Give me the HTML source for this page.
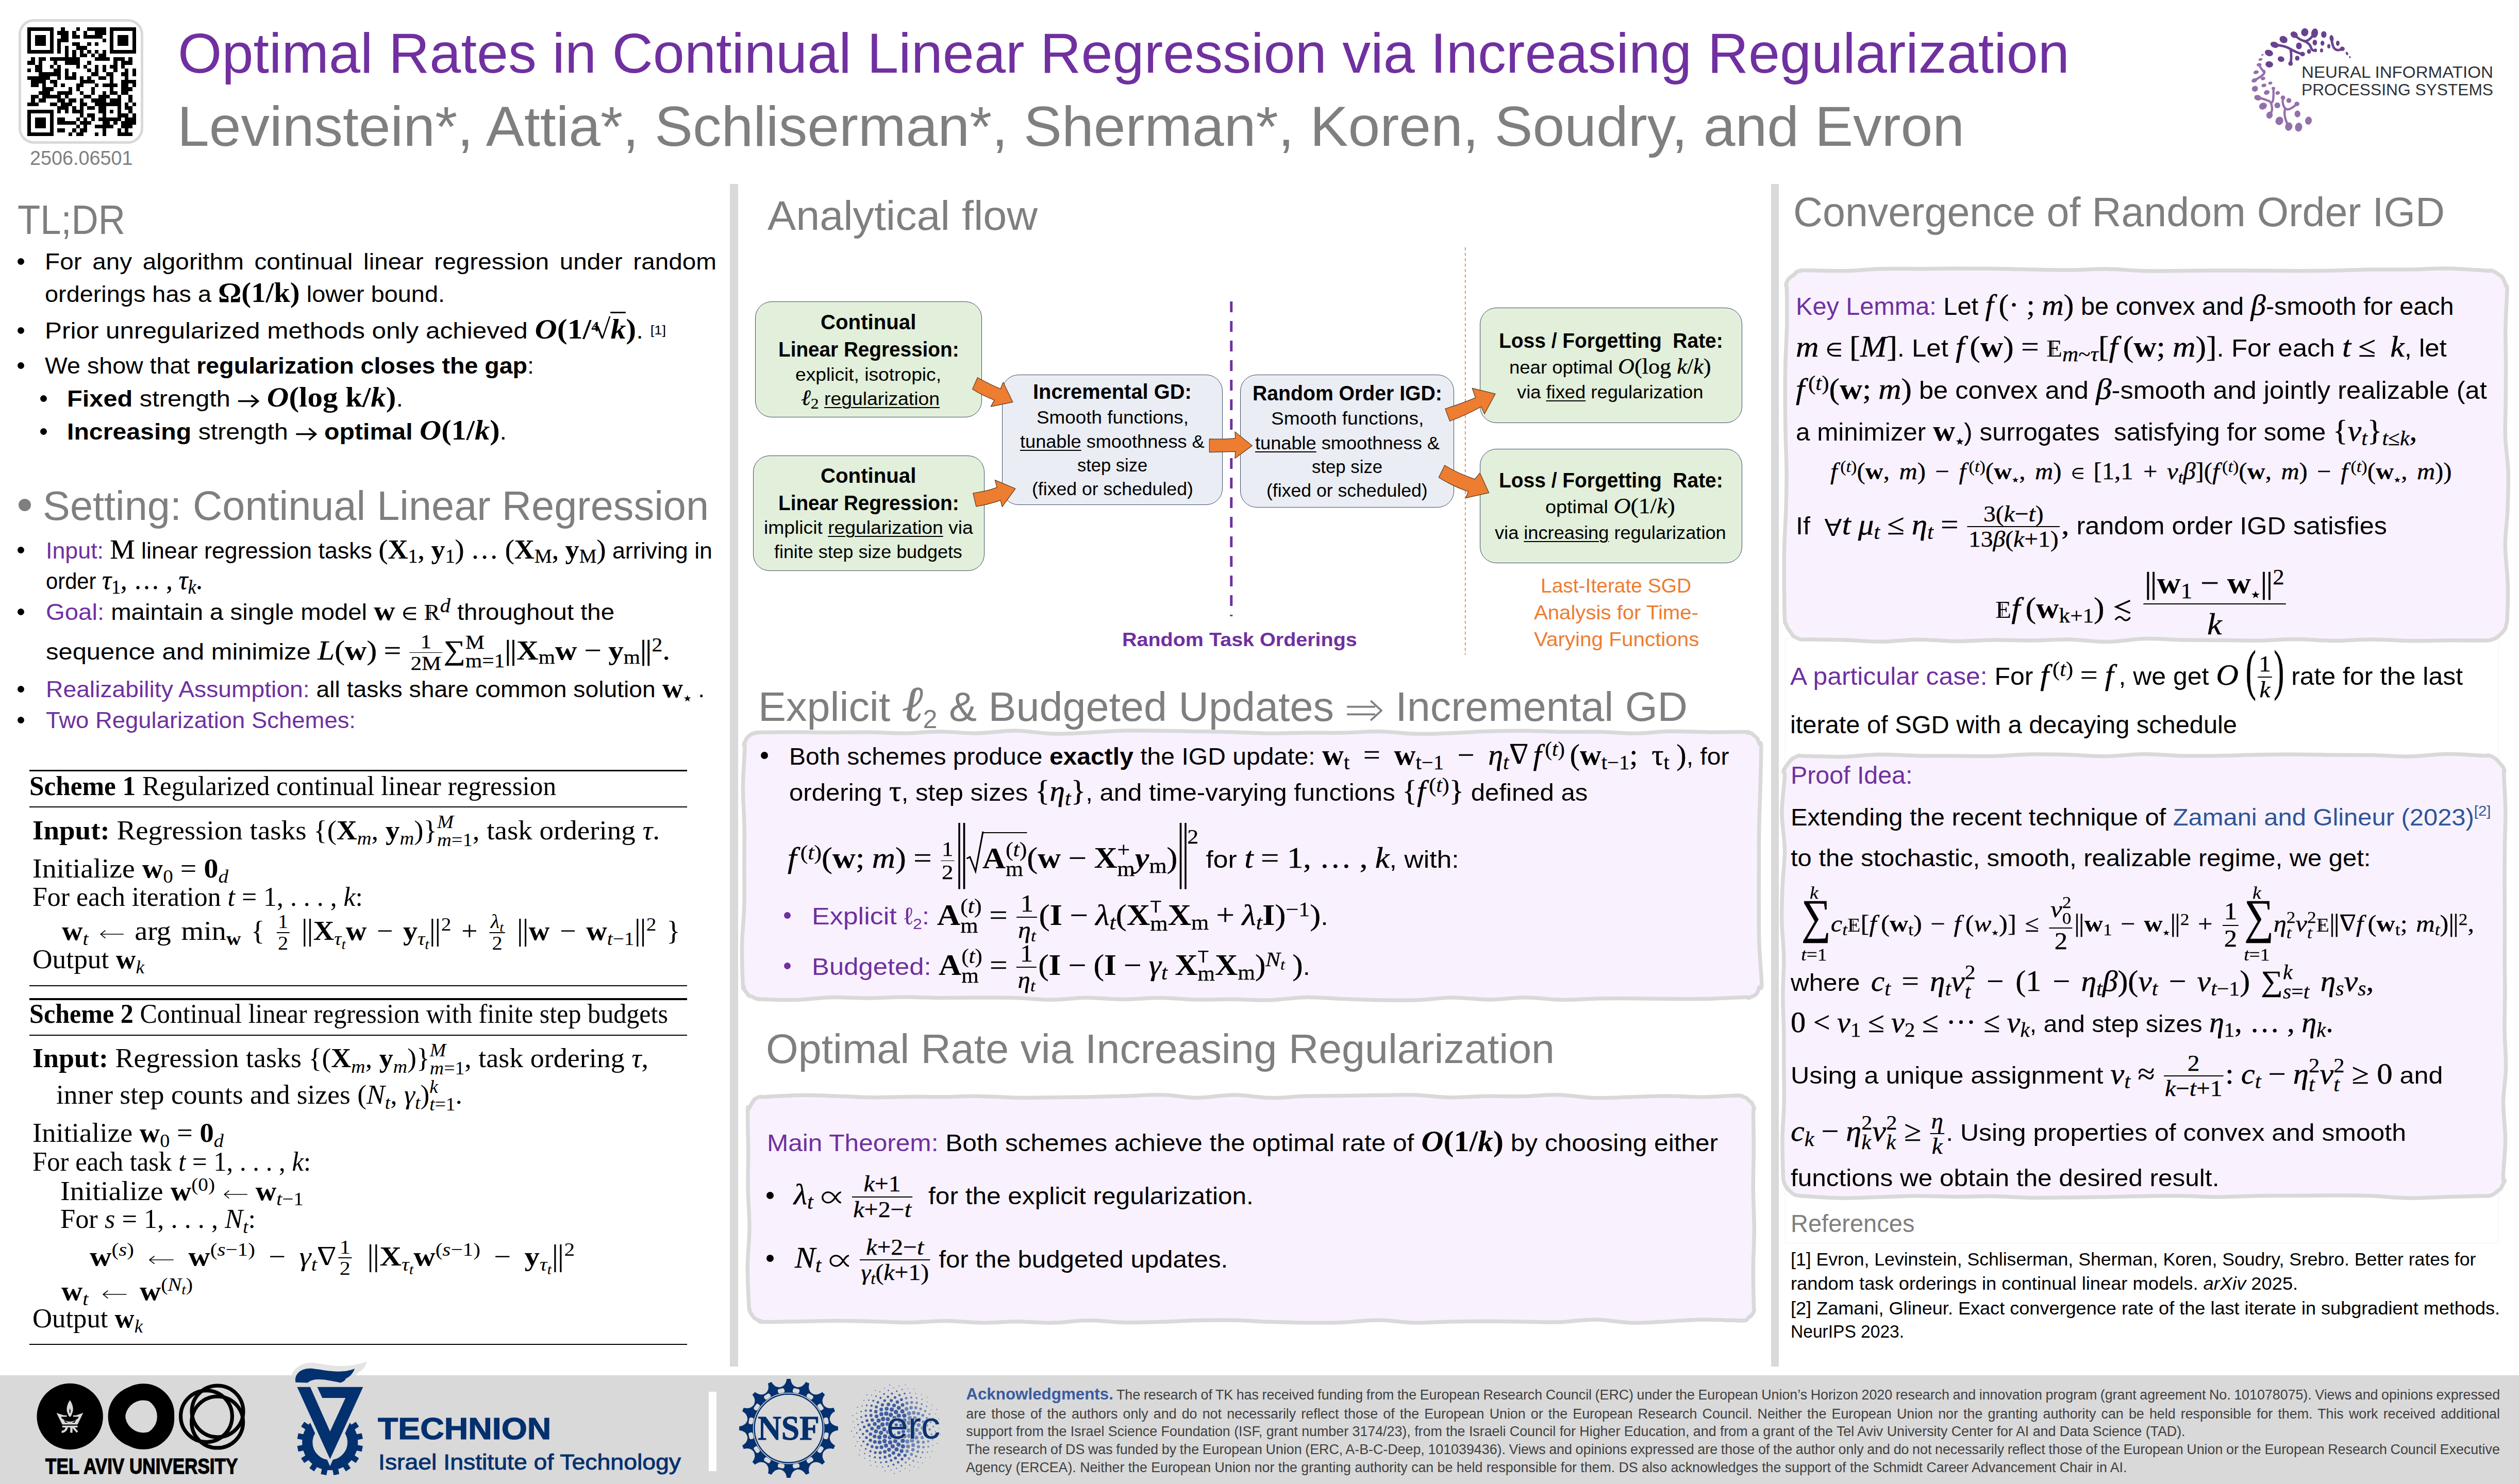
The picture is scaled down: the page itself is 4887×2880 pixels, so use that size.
<!DOCTYPE html>
<html><head><meta charset="utf-8"><title>Poster</title>
<style>
html,body{margin:0;padding:0;background:#fff}
body{width:4887px;height:2880px;position:relative;overflow:hidden;font-family:"Liberation Sans",sans-serif;color:#000}
.t{position:absolute;white-space:nowrap;transform-origin:0 0;line-height:1.2;left:0;top:0}
.r{position:absolute;box-sizing:border-box}
.s{font-family:"Liberation Serif",serif}
.m{font-family:"Liberation Serif",serif;font-style:italic}
.mb{font-family:"Liberation Serif",serif;font-weight:bold}
.mbi{font-family:"Liberation Serif",serif;font-weight:bold;font-style:italic}
.mr{font-family:"Liberation Serif",serif}
.m,.mb,.mbi,.mr{font-size:1.21em}
.m,.mr{-webkit-text-stroke:.008em currentColor}
.s .m,.s .mr{-webkit-text-stroke:0}
.s .m,.s .mb,.s .mbi,.s .mr,.m .m,.mb .mb,.mr .mr,.mr .m,.m .mr,.mb .mr,.mr .mb{font-size:1em}
.nm{font-family:"Liberation Serif",serif;letter-spacing:-.03em;margin-right:.03em;font-size:1.25em;-webkit-text-stroke:.012em currentColor}
.s .nm{font-size:1.12em;-webkit-text-stroke:0}
.fr .nm{font-size:1.2em}
b{font-weight:bold}
sub,sup{font-size:.7em;line-height:0;position:relative;vertical-align:baseline}
sub{top:.28em}
sup{top:-.5em}
.ss{display:inline-flex;flex-direction:column;vertical-align:middle;font-size:.7em;line-height:.95;position:relative;top:-.1em}
.ss>span{display:block}
.fr{display:inline-flex;flex-direction:column;vertical-align:middle;text-align:center;font-size:.72em;line-height:1.06;margin:0 .08em;position:relative;top:-.06em}
.fr>span{display:block;padding:0 .06em}
.fr>span:first-child{border-bottom:.055em solid #000}
.u{text-decoration:underline;text-decoration-thickness:.05em;text-underline-offset:.12em}
.pu{color:#7030a0}
.gy{color:#7f7f7f}
.or{color:#ed7d31}
.bl{color:#2f5597}
.fl{display:inline-block}
svg{position:absolute;overflow:visible}

.bb{font-family:"Liberation Serif",serif;position:relative;display:inline-block}
.bb::before{content:"";position:absolute;left:.245em;top:.33em;height:.55em;border-left:.04em solid currentColor}
</style></head>
<body>
<div class="r" style="left:1416px;top:357px;width:16px;height:2295px;background:#d9d9d9"></div>
<div class="r" style="left:3436px;top:357px;width:15px;height:2295px;background:#d9d9d9"></div>
<div class="r" style="left:0px;top:2669px;width:4887px;height:211px;background:#d9d9d9"></div>
<div class="r" style="left:36px;top:968px;width:24px;height:24px;background:#7f7f7f;border-radius:50%"></div>
<div class="r" style="left:36px;top:37px;width:242px;height:242px;border:5px solid #d9d9d9;border-radius:30px;background:#fff"></div>
<svg style="left:52.7px;top:52.7px" width="211" height="211" viewBox="0 0 29 29" shape-rendering="crispEdges"><path d="M0 0h7v1h-7zM9 0h1v1h-1zM13 0h1v1h-1zM16 0h5v1h-5zM22 0h7v1h-7zM0 1h1v1h-1zM6 1h1v1h-1zM8 1h3v1h-3zM12 1h1v1h-1zM15 1h1v1h-1zM18 1h3v1h-3zM22 1h1v1h-1zM28 1h1v1h-1zM0 2h1v1h-1zM2 2h3v1h-3zM6 2h1v1h-1zM9 2h2v1h-2zM12 2h2v1h-2zM15 2h5v1h-5zM22 2h1v1h-1zM24 2h3v1h-3zM28 2h1v1h-1zM0 3h1v1h-1zM2 3h3v1h-3zM6 3h1v1h-1zM8 3h3v1h-3zM20 3h1v1h-1zM22 3h1v1h-1zM24 3h3v1h-3zM28 3h1v1h-1zM0 4h1v1h-1zM2 4h3v1h-3zM6 4h1v1h-1zM8 4h1v1h-1zM12 4h2v1h-2zM16 4h1v1h-1zM18 4h1v1h-1zM22 4h1v1h-1zM24 4h3v1h-3zM28 4h1v1h-1zM0 5h1v1h-1zM6 5h1v1h-1zM8 5h1v1h-1zM10 5h1v1h-1zM13 5h3v1h-3zM22 5h1v1h-1zM28 5h1v1h-1zM0 6h7v1h-7zM8 6h1v1h-1zM10 6h1v1h-1zM12 6h1v1h-1zM14 6h1v1h-1zM16 6h1v1h-1zM18 6h1v1h-1zM20 6h1v1h-1zM22 6h7v1h-7zM10 7h1v1h-1zM12 7h1v1h-1zM14 7h2v1h-2zM17 7h1v1h-1zM19 7h2v1h-2zM1 8h1v1h-1zM3 8h2v1h-2zM6 8h8v1h-8zM18 8h4v1h-4zM23 8h3v1h-3zM27 8h1v1h-1zM0 9h2v1h-2zM3 9h1v1h-1zM7 9h1v1h-1zM10 9h4v1h-4zM16 9h1v1h-1zM23 9h1v1h-1zM25 9h3v1h-3zM2 10h2v1h-2zM6 10h1v1h-1zM8 10h1v1h-1zM13 10h1v1h-1zM15 10h1v1h-1zM18 10h1v1h-1zM20 10h1v1h-1zM22 10h2v1h-2zM25 10h1v1h-1zM0 11h1v1h-1zM2 11h2v1h-2zM7 11h2v1h-2zM10 11h1v1h-1zM16 11h1v1h-1zM18 11h1v1h-1zM20 11h1v1h-1zM23 11h1v1h-1zM26 11h1v1h-1zM28 11h1v1h-1zM3 12h6v1h-6zM10 12h1v1h-1zM12 12h1v1h-1zM17 12h2v1h-2zM21 12h2v1h-2zM25 12h2v1h-2zM28 12h1v1h-1zM0 13h6v1h-6zM8 13h1v1h-1zM10 13h3v1h-3zM14 13h1v1h-1zM16 13h1v1h-1zM19 13h2v1h-2zM22 13h1v1h-1zM26 13h1v1h-1zM1 14h4v1h-4zM6 14h2v1h-2zM14 14h4v1h-4zM22 14h1v1h-1zM25 14h4v1h-4zM1 15h2v1h-2zM4 15h1v1h-1zM7 15h1v1h-1zM9 15h1v1h-1zM13 15h2v1h-2zM18 15h1v1h-1zM20 15h4v1h-4zM25 15h2v1h-2zM28 15h1v1h-1zM4 16h3v1h-3zM11 16h1v1h-1zM13 16h1v1h-1zM17 16h1v1h-1zM22 16h1v1h-1zM25 16h3v1h-3zM3 17h3v1h-3zM8 17h4v1h-4zM14 17h1v1h-1zM17 17h1v1h-1zM20 17h1v1h-1zM22 17h2v1h-2zM25 17h2v1h-2zM1 18h2v1h-2zM4 18h5v1h-5zM10 18h1v1h-1zM15 18h2v1h-2zM19 18h3v1h-3zM24 18h1v1h-1zM27 18h1v1h-1zM1 19h1v1h-1zM3 19h2v1h-2zM8 19h2v1h-2zM11 19h2v1h-2zM14 19h1v1h-1zM17 19h4v1h-4zM22 19h3v1h-3zM27 19h1v1h-1zM0 20h3v1h-3zM6 20h2v1h-2zM9 20h3v1h-3zM14 20h2v1h-2zM18 20h7v1h-7zM26 20h1v1h-1zM28 20h1v1h-1zM8 21h3v1h-3zM12 21h1v1h-1zM14 21h1v1h-1zM16 21h2v1h-2zM19 21h2v1h-2zM24 21h1v1h-1zM26 21h2v1h-2zM0 22h7v1h-7zM8 22h1v1h-1zM10 22h1v1h-1zM12 22h3v1h-3zM19 22h2v1h-2zM22 22h1v1h-1zM24 22h1v1h-1zM27 22h1v1h-1zM0 23h1v1h-1zM6 23h1v1h-1zM14 23h1v1h-1zM16 23h2v1h-2zM20 23h1v1h-1zM24 23h3v1h-3zM28 23h1v1h-1zM0 24h1v1h-1zM2 24h3v1h-3zM6 24h1v1h-1zM8 24h2v1h-2zM13 24h1v1h-1zM15 24h1v1h-1zM17 24h1v1h-1zM19 24h6v1h-6zM26 24h3v1h-3zM0 25h1v1h-1zM2 25h3v1h-3zM6 25h1v1h-1zM8 25h5v1h-5zM14 25h3v1h-3zM20 25h2v1h-2zM23 25h1v1h-1zM25 25h4v1h-4zM0 26h1v1h-1zM2 26h3v1h-3zM6 26h1v1h-1zM13 26h1v1h-1zM15 26h1v1h-1zM18 26h5v1h-5zM25 26h3v1h-3zM0 27h1v1h-1zM6 27h1v1h-1zM8 27h2v1h-2zM12 27h1v1h-1zM14 27h2v1h-2zM20 27h1v1h-1zM24 27h1v1h-1zM26 27h1v1h-1zM0 28h7v1h-7zM11 28h1v1h-1zM13 28h2v1h-2zM18 28h1v1h-1zM20 28h1v1h-1zM24 28h4v1h-4z" fill="#000"/></svg>
<svg style="left:4340px;top:30px" width="547" height="260" viewBox="0 0 2519 1197"><ellipse cx="605" cy="150" rx="32" ry="36" transform="rotate(10 605 150)" fill="#69428f"/><ellipse cx="693" cy="158" rx="30" ry="42" transform="rotate(10 693 158)" fill="#69428f"/><ellipse cx="775" cy="170" rx="24" ry="30" transform="rotate(0 775 170)" fill="#69428f"/><ellipse cx="845" cy="205" rx="18" ry="30" transform="rotate(-10 845 205)" fill="#69428f"/><ellipse cx="900" cy="248" rx="16" ry="24" transform="rotate(0 900 248)" fill="#69428f"/><ellipse cx="510" cy="172" rx="34" ry="27" transform="rotate(30 510 172)" fill="#69428f"/><ellipse cx="415" cy="215" rx="37" ry="31" transform="rotate(30 415 215)" fill="#69428f"/><ellipse cx="335" cy="262" rx="38" ry="26" transform="rotate(20 335 262)" fill="#69428f"/><ellipse cx="285" cy="335" rx="38" ry="28" transform="rotate(20 285 335)" fill="#69428f"/><ellipse cx="288" cy="437" rx="34" ry="28" transform="rotate(10 288 437)" fill="#69428f"/><ellipse cx="393" cy="390" rx="30" ry="25" transform="rotate(15 393 390)" fill="#69428f"/><ellipse cx="553" cy="272" rx="26" ry="30" transform="rotate(0 553 272)" fill="#69428f"/><ellipse cx="538" cy="382" rx="20" ry="22" transform="rotate(0 538 382)" fill="#69428f"/><ellipse cx="643" cy="322" rx="17" ry="20" transform="rotate(0 643 322)" fill="#69428f"/><ellipse cx="695" cy="242" rx="20" ry="26" transform="rotate(0 695 242)" fill="#69428f"/><ellipse cx="763" cy="248" rx="17" ry="22" transform="rotate(0 763 248)" fill="#69428f"/><ellipse cx="820" cy="275" rx="14" ry="20" transform="rotate(0 820 275)" fill="#69428f"/><ellipse cx="755" cy="312" rx="14" ry="18" transform="rotate(0 755 312)" fill="#69428f"/><ellipse cx="700" cy="312" rx="14" ry="16" transform="rotate(0 700 312)" fill="#69428f"/><ellipse cx="940" cy="298" rx="22" ry="20" transform="rotate(0 940 298)" fill="#69428f"/><ellipse cx="982" cy="340" rx="10" ry="16" transform="rotate(-20 982 340)" fill="#69428f"/><ellipse cx="1008" cy="372" rx="7" ry="10" transform="rotate(-20 1008 372)" fill="#69428f"/><ellipse cx="478" cy="430" rx="20" ry="20" transform="rotate(0 478 430)" fill="#69428f"/><ellipse cx="585" cy="345" rx="22" ry="20" transform="rotate(0 585 345)" fill="#69428f"/><ellipse cx="227" cy="352" rx="12" ry="7" transform="rotate(-20 227 352)" fill="#9470ab"/><ellipse cx="210" cy="393" rx="18" ry="11" transform="rotate(-15 210 393)" fill="#9470ab"/><ellipse cx="197" cy="440" rx="22" ry="14" transform="rotate(-10 197 440)" fill="#9470ab"/><ellipse cx="170" cy="507" rx="24" ry="16" transform="rotate(-15 170 507)" fill="#9470ab"/><ellipse cx="155" cy="580" rx="26" ry="18" transform="rotate(-20 155 580)" fill="#9470ab"/><ellipse cx="232" cy="563" rx="20" ry="15" transform="rotate(-15 232 563)" fill="#9470ab"/><ellipse cx="240" cy="500" rx="14" ry="14" transform="rotate(0 240 500)" fill="#9470ab"/><ellipse cx="297" cy="604" rx="18" ry="13" transform="rotate(-15 297 604)" fill="#9470ab"/><ellipse cx="240" cy="625" rx="22" ry="15" transform="rotate(-15 240 625)" fill="#9470ab"/><ellipse cx="160" cy="655" rx="28" ry="26" transform="rotate(-20 160 655)" fill="#9470ab"/><ellipse cx="265" cy="688" rx="26" ry="20" transform="rotate(-20 265 688)" fill="#9470ab"/><ellipse cx="325" cy="652" rx="16" ry="14" transform="rotate(0 325 652)" fill="#9470ab"/><ellipse cx="363" cy="692" rx="20" ry="16" transform="rotate(-15 363 692)" fill="#9470ab"/><ellipse cx="185" cy="735" rx="32" ry="24" transform="rotate(15 185 735)" fill="#9470ab"/><ellipse cx="232" cy="810" rx="36" ry="30" transform="rotate(-25 232 810)" fill="#9470ab"/><ellipse cx="360" cy="803" rx="26" ry="26" transform="rotate(0 360 803)" fill="#9470ab"/><ellipse cx="410" cy="735" rx="20" ry="20" transform="rotate(0 410 735)" fill="#9470ab"/><ellipse cx="463" cy="760" rx="22" ry="22" transform="rotate(0 463 760)" fill="#9470ab"/><ellipse cx="535" cy="790" rx="22" ry="20" transform="rotate(0 535 790)" fill="#9470ab"/><ellipse cx="290" cy="890" rx="28" ry="32" transform="rotate(20 290 890)" fill="#9470ab"/><ellipse cx="378" cy="942" rx="34" ry="38" transform="rotate(25 378 942)" fill="#9470ab"/><ellipse cx="462" cy="993" rx="32" ry="38" transform="rotate(15 462 993)" fill="#9470ab"/><ellipse cx="550" cy="998" rx="32" ry="40" transform="rotate(10 550 998)" fill="#9470ab"/><ellipse cx="638" cy="940" rx="30" ry="36" transform="rotate(10 638 940)" fill="#9470ab"/><ellipse cx="540" cy="880" rx="26" ry="30" transform="rotate(0 540 880)" fill="#9470ab"/><g fill="none" stroke-linecap="round" stroke-linejoin="round"><path d="M335 262Q430 270 478 300T585 345M478 300Q490 370 478 430M510 172Q560 220 600 228T693 158M600 228Q650 250 660 285T700 312M845 205Q850 280 875 300T940 298" stroke="#69428f" stroke-width="22"/><path d="M185 735Q270 750 300 775T325 652M300 775Q330 850 290 890M410 735Q400 800 430 830T535 790M430 830Q410 900 462 993M197 440Q215 480 240 500T155 580" stroke="#9470ab" stroke-width="20"/></g></svg>
<div class="r" style="left:34.1px;top:500.5px;width:13.0px;height:13.0px;background:#000;border-radius:50%"></div>
<div class="r" style="left:34.1px;top:634.5px;width:13.0px;height:13.0px;background:#000;border-radius:50%"></div>
<div class="r" style="left:34.1px;top:702.5px;width:13.0px;height:13.0px;background:#000;border-radius:50%"></div>
<div class="r" style="left:78.1px;top:766.5px;width:13.0px;height:13.0px;background:#000;border-radius:50%"></div>
<div class="r" style="left:78.1px;top:830.5px;width:13.0px;height:13.0px;background:#000;border-radius:50%"></div>
<div class="r" style="left:34.0px;top:1061.1px;width:13.0px;height:13.0px;background:#000;border-radius:50%"></div>
<div class="r" style="left:34.0px;top:1180.5px;width:13.0px;height:13.0px;background:#000;border-radius:50%"></div>
<div class="r" style="left:34.0px;top:1330.5px;width:13.0px;height:13.0px;background:#000;border-radius:50%"></div>
<div class="r" style="left:34.0px;top:1390.5px;width:13.0px;height:13.0px;background:#000;border-radius:50%"></div>
<div class="r" style="left:57px;top:1493.8px;width:1276px;height:3.4px;background:#000"></div>
<div class="r" style="left:57px;top:1565.15px;width:1276px;height:1.7px;background:#000"></div>
<div class="r" style="left:57px;top:1911.8500000000001px;width:1276px;height:1.7px;background:#000"></div>
<div class="r" style="left:57px;top:1937.3px;width:1276px;height:3.4px;background:#000"></div>
<div class="r" style="left:57px;top:2007.95px;width:1276px;height:1.7px;background:#000"></div>
<div class="r" style="left:57px;top:2607.9500000000003px;width:1276px;height:1.7px;background:#000"></div>
<div class="r" style="left:1464.6px;top:585px;width:440.70000000000005px;height:225px;background:#e2efda;border:1.6px solid #3d4b66;border-radius:32px"></div>
<div class="r" style="left:1460.6px;top:883.5px;width:449.4000000000001px;height:224.29999999999995px;background:#e2efda;border:1.6px solid #3d4b66;border-radius:32px"></div>
<div class="r" style="left:1944px;top:726.7px;width:427.6999999999998px;height:253.29999999999995px;background:#eaedf4;border:1.6px solid #3d4b66;border-radius:32px"></div>
<div class="r" style="left:2406px;top:727px;width:415.1999999999998px;height:258.29999999999995px;background:#eaedf4;border:1.6px solid #3d4b66;border-radius:32px"></div>
<div class="r" style="left:2871px;top:597.4px;width:508.5999999999999px;height:223.30000000000007px;background:#e2efda;border:1.6px solid #3d4b66;border-radius:32px"></div>
<div class="r" style="left:2871px;top:870.6px;width:508.5999999999999px;height:222.89999999999998px;background:#e2efda;border:1.6px solid #3d4b66;border-radius:32px"></div>
<svg style="left:0;top:0" width="4887" height="1400"><path d="M2388.8 585V1196" stroke="#7030a0" stroke-width="5" stroke-dasharray="21 17" fill="none"/><path d="M2842.7 480V1271" stroke="#ed7d31" stroke-width="1.6" stroke-dasharray="6 4.5" fill="none"/></svg>
<svg style="left:0;top:0" width="4887" height="2880"><path d="M1472.0 1421.4C1485.2 1421.1 1522.2 1420.8 1545.9 1420.8C1569.6 1420.9 1591.2 1421.6 1614.1 1421.6C1636.9 1421.7 1659.1 1420.9 1682.8 1421.1C1706.6 1421.3 1733.0 1423.1 1756.5 1422.9C1780.0 1422.7 1800.9 1419.8 1823.9 1419.8C1846.9 1419.8 1870.5 1423.3 1894.7 1423.0C1919.0 1422.8 1944.8 1418.0 1969.4 1418.1C1994.0 1418.3 2018.5 1423.4 2042.1 1424.0C2065.6 1424.6 2088.1 1422.8 2110.8 1421.8C2133.5 1420.8 2155.0 1418.5 2178.5 1417.9C2201.9 1417.4 2228.0 1418.0 2251.7 1418.2C2275.3 1418.5 2297.2 1419.0 2320.3 1419.4C2343.4 1419.8 2366.3 1420.2 2390.1 1420.8C2414.0 1421.5 2439.5 1423.1 2463.6 1423.2C2487.7 1423.4 2511.2 1422.1 2534.9 1421.9C2558.6 1421.8 2582.1 1422.5 2605.6 1422.1C2629.2 1421.7 2652.0 1419.3 2676.2 1419.6C2700.3 1420.0 2726.5 1423.8 2750.5 1424.2C2774.5 1424.7 2797.4 1423.2 2820.3 1422.4C2843.2 1421.6 2864.7 1420.0 2887.8 1419.3C2910.8 1418.6 2934.3 1418.1 2958.4 1418.3C2982.5 1418.5 3008.1 1420.1 3032.3 1420.4C3056.5 1420.7 3079.8 1419.8 3103.6 1420.3C3127.5 1420.8 3152.5 1423.5 3175.2 1423.3C3197.9 1423.1 3216.3 1419.6 3239.9 1419.2C3263.5 1418.8 3291.9 1420.7 3316.5 1420.9C3341.2 1421.1 3375.5 1420.2 3387.8 1420.4C3400.1 1420.6 3388.7 1421.6 3390.5 1422.1C3392.2 1422.6 3396.4 1422.7 3398.4 1423.5C3400.4 1424.4 3400.7 1425.7 3402.5 1427.2C3404.3 1428.8 3407.8 1431.2 3409.2 1432.9C3410.6 1434.6 3410.3 1435.7 3410.9 1437.5C3411.6 1439.2 3412.1 1441.5 3413.1 1443.4C3414.1 1445.3 3416.3 1435.1 3416.7 1449.0C3417.0 1462.9 3415.8 1500.9 3415.1 1526.9C3414.5 1552.8 3413.2 1579.2 3412.8 1604.8C3412.3 1630.4 3412.5 1655.4 3412.4 1680.4C3412.3 1705.5 3412.2 1730.2 3412.3 1755.1C3412.4 1780.1 3412.0 1804.5 3412.9 1830.3C3413.8 1856.1 3417.7 1895.7 3417.8 1909.9C3417.9 1924.1 3414.7 1913.7 3413.6 1915.5C3412.5 1917.3 3411.9 1918.8 3411.1 1920.7C3410.4 1922.6 3410.4 1925.0 3409.0 1927.0C3407.6 1928.9 3404.5 1931.3 3402.6 1932.5C3400.6 1933.7 3398.9 1933.7 3397.1 1934.4C3395.4 1935.2 3394.3 1936.7 3392.0 1936.8C3389.8 1936.9 3396.9 1934.9 3383.4 1935.2C3370.0 1935.5 3335.0 1937.9 3311.3 1938.5C3287.6 1939.0 3264.8 1938.7 3241.4 1938.6C3218.1 1938.5 3194.3 1937.8 3171.4 1937.7C3148.6 1937.5 3127.8 1937.4 3104.4 1937.8C3081.0 1938.3 3055.5 1940.6 3031.1 1940.3C3006.6 1939.9 2981.0 1935.8 2957.7 1935.7C2934.5 1935.7 2915.1 1939.9 2891.6 1940.0C2868.0 1940.0 2840.3 1935.8 2816.5 1936.0C2792.7 1936.1 2772.5 1940.0 2748.8 1940.8C2725.1 1941.6 2698.0 1941.2 2674.5 1940.8C2651.1 1940.5 2631.4 1939.5 2608.1 1938.6C2584.7 1937.7 2558.8 1935.0 2534.3 1935.4C2509.8 1935.8 2484.8 1940.3 2461.0 1940.9C2437.2 1941.6 2414.8 1939.4 2391.5 1939.3C2368.1 1939.1 2344.0 1940.5 2320.8 1940.0C2297.5 1939.6 2275.8 1936.7 2252.1 1936.6C2228.4 1936.5 2202.7 1939.4 2178.6 1939.4C2154.4 1939.3 2130.3 1936.1 2107.1 1936.2C2083.9 1936.4 2062.4 1940.2 2039.4 1940.2C2016.3 1940.3 1992.1 1937.2 1968.9 1936.5C1945.7 1935.9 1924.2 1936.1 1900.0 1936.1C1875.8 1936.0 1847.5 1936.6 1823.4 1936.5C1799.3 1936.3 1778.8 1935.0 1755.3 1935.1C1731.9 1935.2 1706.2 1937.0 1682.8 1937.1C1659.3 1937.2 1637.9 1935.0 1614.5 1935.6C1591.1 1936.1 1565.5 1939.9 1542.3 1940.5C1519.1 1941.0 1488.1 1939.5 1475.4 1939.0C1462.7 1938.4 1468.9 1938.2 1466.1 1937.4C1463.3 1936.6 1460.8 1934.8 1458.5 1933.9C1456.3 1933.1 1454.1 1933.4 1452.6 1932.3C1451.0 1931.3 1450.7 1929.5 1449.3 1927.7C1448.0 1925.8 1445.3 1923.4 1444.2 1921.3C1443.2 1919.2 1443.6 1916.8 1443.1 1915.1C1442.6 1913.5 1441.8 1925.0 1441.2 1911.1C1440.6 1897.3 1439.2 1857.6 1439.6 1832.1C1440.1 1806.6 1443.2 1783.4 1443.9 1758.2C1444.6 1733.0 1443.8 1706.2 1443.9 1680.8C1443.9 1655.4 1444.6 1631.4 1444.2 1606.0C1443.8 1580.6 1441.3 1553.8 1441.4 1528.4C1441.5 1503.0 1444.7 1467.3 1444.9 1453.4C1445.2 1439.5 1442.7 1447.6 1442.9 1445.0C1443.1 1442.5 1445.1 1440.4 1446.1 1438.2C1447.2 1436.0 1447.9 1433.8 1449.2 1432.1C1450.5 1430.4 1452.3 1429.1 1453.8 1427.8C1455.4 1426.5 1456.2 1425.2 1458.4 1424.3C1460.6 1423.5 1464.5 1423.1 1466.8 1422.7C1469.1 1422.2 1458.9 1421.7 1472.0 1421.4Z" fill="#f9f2fe" stroke="#d9d9d9" stroke-width="7.5" stroke-linejoin="round"/></svg>
<svg style="left:0;top:0" width="4887" height="2880"><path d="M1482.6 2128.8C1495.5 2128.3 1531.0 2125.8 1553.9 2125.5C1576.7 2125.2 1596.8 2126.2 1619.7 2126.9C1642.7 2127.7 1667.4 2129.5 1691.5 2129.7C1715.5 2130.0 1740.5 2128.6 1764.2 2128.4C1787.8 2128.2 1810.6 2129.0 1833.4 2128.8C1856.2 2128.6 1877.9 2127.1 1900.8 2127.4C1923.7 2127.6 1947.7 2129.9 1971.0 2130.3C1994.2 2130.8 2017.1 2130.0 2040.4 2129.8C2063.6 2129.6 2086.9 2129.4 2110.5 2128.9C2134.2 2128.5 2158.1 2127.9 2182.3 2127.1C2206.4 2126.4 2232.5 2124.1 2255.6 2124.7C2278.6 2125.2 2297.6 2130.3 2320.6 2130.4C2343.6 2130.5 2369.2 2125.1 2393.5 2125.1C2417.9 2125.2 2443.7 2130.3 2466.6 2130.6C2489.6 2131.0 2508.7 2127.9 2531.1 2127.3C2553.5 2126.6 2577.4 2126.8 2601.3 2126.6C2625.2 2126.3 2650.5 2125.9 2674.5 2125.6C2698.4 2125.3 2722.1 2124.2 2745.0 2124.9C2767.9 2125.6 2788.7 2129.4 2811.7 2129.8C2834.7 2130.2 2859.4 2127.6 2883.2 2127.2C2907.0 2126.9 2931.2 2128.0 2954.5 2127.6C2977.9 2127.2 2999.7 2124.2 3023.2 2124.7C3046.7 2125.3 3071.5 2130.1 3095.5 2130.7C3119.5 2131.4 3144.2 2129.4 3167.1 2128.8C3190.1 2128.2 3210.2 2126.9 3233.2 2126.9C3256.3 2126.9 3282.3 2129.0 3305.4 2128.9C3328.5 2128.7 3359.2 2126.1 3371.8 2126.1C3384.3 2126.0 3377.9 2127.7 3380.6 2128.5C3383.3 2129.3 3386.1 2129.6 3388.0 2130.7C3389.8 2131.8 3390.3 2133.6 3391.9 2135.0C3393.5 2136.4 3396.1 2137.5 3397.5 2139.1C3399.0 2140.7 3399.7 2142.5 3400.7 2144.6C3401.6 2146.7 3403.1 2149.4 3403.2 2151.7C3403.4 2153.9 3401.9 2144.3 3401.7 2158.1C3401.5 2171.8 3402.3 2209.5 3402.2 2234.3C3402.1 2259.1 3401.1 2281.8 3401.3 2306.8C3401.5 2331.9 3403.2 2359.1 3403.3 2384.4C3403.3 2409.7 3401.5 2433.8 3401.4 2458.5C3401.2 2483.2 3402.0 2518.8 3402.4 2532.7C3402.7 2546.5 3403.6 2539.2 3403.4 2541.8C3403.3 2544.3 3402.3 2546.1 3401.2 2548.1C3400.2 2550.1 3398.4 2552.3 3397.0 2553.7C3395.5 2555.2 3394.2 2555.4 3392.7 2556.8C3391.1 2558.2 3390.0 2561.0 3387.8 2562.0C3385.7 2563.0 3381.8 2562.6 3379.8 2562.8C3377.8 2563.0 3388.9 2563.3 3376.0 2563.0C3363.1 2562.7 3326.7 2560.6 3302.5 2560.9C3278.4 2561.2 3253.8 2563.8 3231.2 2564.8C3208.6 2565.9 3190.0 2567.9 3167.2 2567.2C3144.3 2566.6 3118.1 2561.2 3094.1 2561.0C3070.0 2560.8 3045.8 2565.2 3022.8 2565.9C2999.8 2566.5 2979.5 2565.2 2956.0 2564.9C2932.6 2564.7 2905.9 2564.2 2882.1 2564.2C2858.4 2564.2 2837.0 2564.4 2813.7 2564.9C2790.3 2565.3 2765.1 2567.4 2742.2 2566.9C2719.3 2566.4 2699.5 2562.0 2676.2 2561.9C2652.9 2561.8 2626.3 2565.6 2602.3 2566.4C2578.3 2567.3 2555.3 2567.1 2532.2 2566.9C2509.1 2566.7 2486.5 2566.1 2463.6 2565.3C2440.7 2564.5 2418.4 2562.7 2394.8 2562.2C2371.2 2561.7 2345.4 2562.0 2322.0 2562.5C2298.7 2563.0 2278.0 2564.6 2254.5 2565.3C2231.0 2566.0 2204.6 2567.0 2180.9 2566.5C2157.3 2566.0 2135.8 2562.3 2112.7 2562.4C2089.7 2562.5 2066.0 2566.7 2042.8 2567.1C2019.6 2567.5 1996.4 2564.9 1973.5 2564.8C1950.7 2564.8 1928.9 2567.2 1905.8 2567.0C1882.6 2566.8 1858.4 2563.6 1834.7 2563.5C1811.0 2563.5 1786.9 2566.4 1763.5 2566.6C1740.2 2566.8 1718.4 2565.1 1694.8 2564.6C1671.2 2564.0 1645.3 2563.2 1621.9 2563.2C1598.5 2563.2 1578.0 2564.1 1554.3 2564.5C1530.6 2564.8 1492.5 2565.5 1479.7 2565.4C1466.8 2565.3 1478.5 2564.5 1477.0 2564.0C1475.5 2563.4 1472.8 2563.0 1470.6 2562.0C1468.5 2561.0 1466.1 2559.8 1464.1 2558.2C1462.2 2556.5 1460.5 2553.8 1459.0 2551.9C1457.6 2549.9 1456.2 2548.4 1455.4 2546.6C1454.6 2544.9 1454.9 2543.1 1454.5 2541.1C1454.1 2539.2 1453.7 2548.5 1453.0 2534.8C1452.3 2521.1 1450.2 2484.3 1450.3 2459.0C1450.5 2433.7 1453.9 2408.1 1454.0 2382.9C1454.2 2357.6 1451.5 2332.5 1451.1 2307.7C1450.7 2282.9 1451.7 2259.6 1451.6 2234.2C1451.5 2208.8 1450.2 2168.9 1450.5 2155.1C1450.7 2141.3 1452.1 2153.2 1453.1 2151.5C1454.1 2149.8 1455.1 2147.2 1456.3 2145.1C1457.5 2143.0 1459.2 2140.5 1460.3 2138.7C1461.4 2136.9 1461.4 2135.7 1463.0 2134.3C1464.5 2132.8 1467.4 2131.0 1469.6 2130.0C1471.9 2129.0 1474.3 2128.4 1476.4 2128.1C1478.6 2127.9 1469.7 2129.2 1482.6 2128.8Z" fill="#f9f2fe" stroke="#d9d9d9" stroke-width="7.5" stroke-linejoin="round"/></svg>
<div class="r" style="left:1475.8px;top:1459px;width:14px;height:14px;background:#000;border-radius:50%"></div>
<div class="r" style="left:1520.8px;top:1770.0px;width:13.0px;height:13.0px;background:#7030a0;border-radius:50%"></div>
<div class="r" style="left:1520.8px;top:1868.3px;width:13.0px;height:13.0px;background:#7030a0;border-radius:50%"></div>
<div class="r" style="left:1487.3px;top:2313px;width:14px;height:14px;background:#000;border-radius:50%"></div>
<div class="r" style="left:1487.3px;top:2434.9px;width:14px;height:14px;background:#000;border-radius:50%"></div>
<div class="r" style="left:3463px;top:1239px;width:1385px;height:1174px;background:#fff;border:1.5px solid #f1f1f1"></div>
<svg style="left:0;top:0" width="4887" height="2880"><path d="M3502.8 524.6C3516.8 524.7 3554.5 526.2 3578.8 525.7C3603.1 525.2 3625.0 522.4 3648.9 521.7C3672.7 521.1 3696.9 521.8 3721.9 521.7C3746.9 521.6 3774.1 521.1 3798.9 521.1C3823.8 521.1 3847.0 521.3 3870.9 521.6C3894.9 521.9 3917.9 522.6 3942.7 523.0C3967.4 523.4 3995.3 524.3 4019.4 524.1C4043.5 524.0 4063.7 521.7 4087.4 522.0C4111.1 522.3 4136.3 525.3 4161.5 525.8C4186.8 526.4 4213.9 525.5 4239.1 525.4C4264.2 525.3 4287.9 525.0 4312.4 525.0C4337.0 525.0 4362.7 525.2 4386.5 525.3C4410.3 525.4 4431.4 525.7 4455.3 525.7C4479.3 525.6 4505.3 525.5 4530.1 525.1C4554.8 524.6 4579.6 523.3 4603.8 523.0C4628.1 522.7 4651.7 523.3 4675.8 523.0C4700.0 522.7 4723.9 520.6 4748.8 521.0C4773.7 521.4 4811.2 524.7 4825.3 525.4C4839.4 526.0 4830.7 524.4 4833.2 524.9C4835.8 525.3 4838.4 526.7 4840.7 528.0C4843.1 529.2 4845.1 530.9 4847.4 532.6C4849.6 534.2 4852.5 535.5 4854.4 537.8C4856.3 540.0 4857.4 543.4 4858.6 546.1C4859.8 548.9 4860.8 551.7 4861.7 554.5C4862.6 557.2 4864.1 549.5 4863.9 562.8C4863.8 576.1 4861.3 610.9 4860.9 634.4C4860.5 657.9 4861.5 680.2 4861.6 703.7C4861.6 727.2 4861.5 751.4 4861.3 775.5C4861.1 799.6 4859.7 824.6 4860.5 848.3C4861.3 872.0 4865.5 893.7 4866.2 917.6C4866.8 941.6 4865.6 968.7 4864.7 992.1C4863.7 1015.5 4860.2 1034.4 4860.3 1058.0C4860.4 1081.6 4864.6 1109.8 4865.2 1133.4C4865.8 1157.1 4864.7 1187.0 4864.1 1200.1C4863.6 1213.2 4862.7 1208.6 4862.1 1212.0C4861.4 1215.3 4861.5 1217.6 4860.2 1220.3C4858.8 1223.0 4855.9 1225.7 4853.9 1228.0C4851.8 1230.3 4850.3 1232.1 4847.9 1234.0C4845.6 1235.9 4842.4 1238.1 4839.8 1239.3C4837.2 1240.6 4835.4 1241.1 4832.4 1241.7C4829.3 1242.4 4835.1 1242.8 4821.4 1243.0C4807.8 1243.2 4774.8 1242.7 4750.5 1242.8C4726.2 1243.0 4700.5 1244.0 4675.8 1243.7C4651.1 1243.4 4627.0 1241.0 4602.4 1240.9C4577.8 1240.9 4552.7 1243.5 4528.0 1243.4C4503.3 1243.4 4478.9 1240.5 4454.4 1240.5C4429.9 1240.5 4404.8 1242.8 4380.9 1243.2C4356.9 1243.5 4335.2 1242.7 4310.7 1242.5C4286.2 1242.3 4258.8 1242.3 4234.1 1241.9C4209.5 1241.4 4187.3 1239.0 4162.8 1239.6C4138.3 1240.2 4112.0 1245.2 4087.3 1245.4C4062.7 1245.7 4039.0 1241.4 4014.8 1241.0C3990.7 1240.6 3967.0 1242.7 3942.5 1242.9C3918.0 1243.1 3892.3 1241.8 3868.0 1242.1C3843.7 1242.3 3821.1 1244.5 3796.6 1244.4C3772.1 1244.2 3745.3 1241.0 3721.0 1241.2C3696.7 1241.3 3674.8 1245.1 3650.9 1245.3C3627.0 1245.4 3602.0 1242.8 3577.7 1242.1C3553.5 1241.4 3519.3 1241.1 3505.4 1240.9C3491.5 1240.8 3497.3 1241.6 3494.4 1241.3C3491.5 1240.9 3490.5 1240.0 3487.9 1238.8C3485.3 1237.6 3481.2 1236.0 3478.9 1233.9C3476.5 1231.9 3475.6 1229.1 3473.9 1226.6C3472.1 1224.2 3470.0 1221.9 3468.5 1219.3C3467.0 1216.6 3465.8 1213.7 3464.8 1210.7C3463.8 1207.7 3463.0 1214.6 3462.5 1201.3C3461.9 1188.0 3461.5 1153.8 3461.4 1130.6C3461.3 1107.4 3461.1 1086.0 3461.7 1061.9C3462.3 1037.9 3464.3 1010.4 3465.0 986.1C3465.7 961.9 3466.2 939.4 3466.1 916.4C3466.0 893.3 3464.7 871.3 3464.2 847.7C3463.8 824.2 3463.3 799.1 3463.3 775.0C3463.2 750.9 3463.4 726.9 3463.9 703.1C3464.5 679.2 3466.3 655.5 3466.7 631.9C3467.1 608.4 3466.7 574.6 3466.4 561.6C3466.1 548.7 3464.8 557.0 3464.9 554.3C3465.1 551.6 3466.0 547.9 3467.3 545.3C3468.6 542.6 3470.6 540.4 3472.8 538.4C3474.9 536.4 3478.1 535.1 3480.3 533.3C3482.5 531.5 3483.6 528.8 3486.0 527.5C3488.4 526.1 3491.8 525.6 3494.6 525.1C3497.4 524.7 3488.8 524.5 3502.8 524.6Z" fill="#f9f2fe" stroke="#d9d9d9" stroke-width="7.5" stroke-linejoin="round"/></svg>
<svg style="left:0;top:0" width="4887" height="2880"><path d="M3497.2 1467.0C3511.2 1467.4 3549.4 1469.0 3574.0 1468.6C3598.6 1468.1 3620.4 1464.5 3644.9 1464.2C3669.4 1463.9 3696.7 1466.3 3721.2 1466.8C3745.6 1467.2 3767.6 1466.8 3791.7 1466.9C3815.8 1467.1 3841.4 1468.0 3865.6 1467.5C3889.9 1467.0 3912.2 1464.4 3937.1 1464.0C3962.1 1463.5 3990.9 1464.2 4015.5 1464.8C4040.0 1465.5 4060.5 1467.9 4084.7 1467.7C4108.8 1467.5 4135.6 1463.7 4160.3 1463.5C4185.1 1463.4 4209.2 1466.3 4233.1 1466.8C4257.1 1467.3 4280.0 1467.1 4304.0 1466.7C4327.9 1466.4 4352.7 1465.2 4377.0 1464.7C4401.4 1464.2 4424.7 1463.8 4450.1 1463.9C4475.4 1463.9 4503.7 1464.9 4529.1 1465.1C4554.5 1465.4 4578.4 1464.9 4602.5 1465.4C4626.5 1465.9 4649.2 1468.5 4673.3 1468.1C4697.4 1467.8 4722.7 1463.5 4747.1 1463.3C4771.6 1463.0 4806.4 1466.2 4819.8 1466.6C4833.2 1467.0 4824.5 1465.3 4827.4 1465.8C4830.4 1466.4 4834.8 1468.3 4837.4 1469.7C4840.1 1471.2 4841.4 1472.4 4843.5 1474.4C4845.6 1476.3 4847.9 1479.3 4849.9 1481.5C4851.9 1483.7 4853.8 1485.1 4855.3 1487.5C4856.8 1489.9 4858.5 1493.4 4859.0 1495.9C4859.4 1498.5 4857.5 1489.7 4857.8 1502.7C4858.2 1515.7 4860.5 1550.3 4860.8 1573.9C4861.0 1597.5 4859.7 1620.2 4859.4 1644.3C4859.1 1668.5 4859.1 1694.8 4859.1 1718.7C4859.1 1742.6 4859.5 1764.6 4859.5 1787.8C4859.5 1811.1 4859.1 1835.2 4859.2 1858.3C4859.2 1881.4 4859.9 1903.4 4859.9 1926.7C4859.8 1950.0 4858.8 1973.8 4859.1 1998.2C4859.4 2022.6 4862.0 2049.9 4861.6 2073.3C4861.2 2096.7 4856.6 2115.6 4856.5 2138.8C4856.3 2161.9 4860.6 2188.0 4860.6 2212.1C4860.5 2236.2 4856.4 2270.4 4856.2 2283.6C4856.0 2296.7 4859.4 2288.3 4859.2 2291.0C4859.0 2293.7 4856.2 2297.1 4854.9 2299.8C4853.7 2302.4 4853.4 2304.5 4851.5 2306.7C4849.6 2308.8 4846.2 2310.9 4843.7 2312.8C4841.3 2314.8 4839.6 2316.9 4836.9 2318.2C4834.2 2319.6 4831.0 2320.5 4827.6 2321.0C4824.2 2321.5 4829.4 2320.7 4816.3 2321.0C4803.2 2321.4 4773.2 2322.1 4749.0 2322.8C4724.9 2323.5 4696.3 2325.4 4671.2 2325.0C4646.1 2324.7 4623.1 2321.5 4598.4 2320.7C4573.7 2319.8 4547.7 2320.0 4523.1 2320.0C4498.4 2320.0 4474.3 2320.4 4450.8 2320.5C4427.3 2320.6 4406.2 2320.3 4381.8 2320.7C4357.4 2321.1 4328.9 2322.9 4304.5 2322.9C4280.1 2322.9 4259.4 2321.2 4235.5 2320.9C4211.6 2320.7 4186.0 2321.1 4161.2 2321.4C4136.4 2321.7 4110.8 2322.4 4086.6 2322.9C4062.3 2323.3 4040.2 2323.6 4015.7 2323.9C3991.2 2324.2 3964.7 2324.8 3939.6 2324.4C3914.6 2324.0 3889.4 2321.8 3865.4 2321.5C3841.5 2321.2 3819.9 2322.6 3795.9 2322.5C3771.9 2322.5 3745.9 2321.0 3721.4 2321.1C3696.9 2321.1 3674.0 2322.3 3649.0 2323.0C3624.0 2323.6 3596.3 2325.3 3571.4 2325.0C3546.5 2324.7 3513.1 2322.0 3499.6 2321.2C3486.0 2320.4 3493.3 2320.8 3490.3 2320.4C3487.3 2319.9 3484.4 2319.9 3481.7 2318.7C3479.0 2317.5 3476.2 2314.9 3474.0 2313.0C3471.8 2311.1 3470.1 2309.4 3468.4 2307.3C3466.6 2305.2 3464.8 2303.0 3463.4 2300.2C3462.1 2297.5 3460.9 2294.3 3460.2 2290.9C3459.5 2287.5 3459.6 2293.5 3459.3 2279.9C3458.9 2266.3 3457.7 2232.9 3458.0 2209.4C3458.3 2185.9 3460.7 2162.3 3461.2 2138.8C3461.7 2115.4 3460.9 2091.7 3460.8 2068.7C3460.7 2045.7 3461.0 2023.7 3460.7 2000.9C3460.4 1978.1 3458.8 1955.7 3458.8 1932.1C3458.8 1908.4 3461.1 1883.2 3460.8 1859.1C3460.4 1835.0 3457.3 1811.1 3456.8 1787.5C3456.4 1763.9 3457.3 1740.4 3458.3 1717.3C3459.2 1694.3 3462.7 1672.6 3462.5 1649.3C3462.3 1626.0 3456.9 1601.4 3456.9 1577.5C3456.9 1553.6 3462.0 1519.3 3462.5 1506.0C3463.0 1492.7 3459.7 1500.4 3459.8 1497.7C3460.0 1494.9 3462.0 1492.2 3463.5 1489.5C3465.1 1486.8 3467.3 1484.2 3469.3 1481.5C3471.4 1478.9 3473.5 1475.6 3475.8 1473.5C3478.1 1471.5 3480.7 1470.4 3483.1 1469.3C3485.4 1468.1 3487.7 1466.9 3490.0 1466.5C3492.4 1466.1 3483.2 1466.7 3497.2 1467.0Z" fill="#f9f2fe" stroke="#d9d9d9" stroke-width="7.5" stroke-linejoin="round"/></svg>
<svg style="left:40px;top:2660px" width="480" height="220" viewBox="0 0 2519 1154.6"><circle cx="502" cy="467" r="337" fill="#000"/><g fill="#d9d9d9"><path d="M502 300C470 345 462 400 478 430Q490 470 502 470Q514 470 526 430C542 400 534 345 502 300ZM502 385Q492 405 497 428Q502 438 507 428Q512 405 502 385Z" fill-rule="evenodd"/><path d="M365 430 440 455 470 455 470 470 415 470 415 482Q455 520 502 520Q549 520 589 482L589 470 534 470 534 455 564 455 637 430 580 548 424 548ZM436 492 454 530 550 530 568 492Q540 532 502 532Q464 532 436 492Z" fill-rule="evenodd"/><path d="M424 560H580V578H550L585 618 570 632 528 585V632H505V578H480Q478 625 418 635V612Q455 606 456 578H424Z"/></g><circle cx="1205" cy="467" r="250" fill="none" stroke="#000" stroke-width="130"/><circle cx="1250" cy="447" r="250" fill="none" stroke="#000" stroke-width="130"/><circle cx="1250" cy="487" r="250" fill="none" stroke="#000" stroke-width="130"/><circle cx="1892" cy="465" r="262" fill="none" stroke="#000" stroke-width="38"/><circle cx="2005" cy="415" r="262" fill="none" stroke="#000" stroke-width="38"/><circle cx="2003" cy="525" r="262" fill="none" stroke="#000" stroke-width="38"/></svg>
<svg style="left:540px;top:2630px" width="820" height="250" viewBox="0 0 2519 768"><path d="M78 150C70 90 130 40 210 45C300 58 400 85 528 38C520 70 500 95 470 105C460 130 440 150 415 165L78 165Z" fill="#e4e4e4"/><g transform="translate(308 520)"><circle r="135" fill="none" stroke="#03306e" stroke-width="62"/><rect x="-17" y="-196" width="34" height="40" transform="rotate(101.25)" fill="#03306e"/><rect x="-17" y="-196" width="34" height="40" transform="rotate(123.75)" fill="#03306e"/><rect x="-17" y="-196" width="34" height="40" transform="rotate(146.25)" fill="#03306e"/><rect x="-17" y="-196" width="34" height="40" transform="rotate(168.75)" fill="#03306e"/><rect x="-17" y="-196" width="34" height="40" transform="rotate(191.25)" fill="#03306e"/><rect x="-17" y="-196" width="34" height="40" transform="rotate(213.75)" fill="#03306e"/><rect x="-17" y="-196" width="34" height="40" transform="rotate(236.25)" fill="#03306e"/><rect x="-17" y="-196" width="34" height="40" transform="rotate(258.75)" fill="#03306e"/><rect x="-17" y="-196" width="34" height="40" transform="rotate(281.25)" fill="#03306e"/><rect x="-17" y="-196" width="34" height="40" transform="rotate(303.75)" fill="#03306e"/><rect x="-17" y="-196" width="34" height="40" transform="rotate(416.25)" fill="#03306e"/><rect x="-17" y="-196" width="34" height="40" transform="rotate(438.75)" fill="#03306e"/></g><path d="M60 190H560V120H60Z" fill="#d9d9d9"/><path d="M112 190 308 620 505 190Z" fill="#d9d9d9" stroke="#d9d9d9" stroke-width="34" stroke-linejoin="miter"/><path d="M112 190H190L308 455 400 255H262L232 190H505L308 620Z" fill="#03306e"/><path d="M103 162C92 110 140 72 205 80C290 92 380 112 455 80C445 112 420 132 402 140C398 152 385 160 370 164C300 150 215 128 175 164Z" fill="#03306e"/></svg>
<div class="r" style="left:1375px;top:2701.3px;width:15px;height:153.4px;background:#fff"></div>
<svg style="left:1429.7px;top:2671.9px" width="200" height="200" viewBox="-100 -100 200 200"><path d="M-3.7 -95.9L3.7 -95.9Q5.2 -82.8 15.9 -79.9Q26.9 -78.5 33.3 -90.0L40.1 -87.2Q36.5 -74.5 45.3 -67.8Q54.9 -62.3 65.2 -70.4L70.4 -65.2Q62.3 -54.9 67.8 -45.3Q74.5 -36.5 87.2 -40.1L90.0 -33.3Q78.5 -26.9 79.9 -15.9Q82.8 -5.2 95.9 -3.7L95.9 3.7Q82.8 5.2 79.9 15.9Q78.5 26.9 90.0 33.3L87.2 40.1Q74.5 36.5 67.8 45.3Q62.3 54.9 70.4 65.2L65.2 70.4Q54.9 62.3 45.3 67.8Q36.5 74.5 40.1 87.2L33.3 90.0Q26.9 78.5 15.9 79.9Q5.2 82.8 3.7 95.9L-3.7 95.9Q-5.2 82.8 -15.9 79.9Q-26.9 78.5 -33.3 90.0L-40.1 87.2Q-36.5 74.5 -45.3 67.8Q-54.9 62.3 -65.2 70.4L-70.4 65.2Q-62.3 54.9 -67.8 45.3Q-74.5 36.5 -87.2 40.1L-90.0 33.3Q-78.5 26.9 -79.9 15.9Q-82.8 5.2 -95.9 3.7L-95.9 -3.7Q-82.8 -5.2 -79.9 -15.9Q-78.5 -26.9 -90.0 -33.3L-87.2 -40.1Q-74.5 -36.5 -67.8 -45.3Q-62.3 -54.9 -70.4 -65.2L-65.2 -70.4Q-54.9 -62.3 -45.3 -67.8Q-36.5 -74.5 -40.1 -87.2L-33.3 -90.0Q-26.9 -78.5 -15.9 -79.9Q-5.2 -82.8 -3.7 -95.9Z" fill="#03306e"/><rect x="-6.5" y="-78.5" width="13" height="8.5" rx="3.2" transform="rotate(11.25)" fill="#d9d9d9"/><rect x="-6.5" y="-78.5" width="13" height="8.5" rx="3.2" transform="rotate(33.75)" fill="#d9d9d9"/><rect x="-6.5" y="-78.5" width="13" height="8.5" rx="3.2" transform="rotate(56.25)" fill="#d9d9d9"/><rect x="-6.5" y="-78.5" width="13" height="8.5" rx="3.2" transform="rotate(78.75)" fill="#d9d9d9"/><rect x="-6.5" y="-78.5" width="13" height="8.5" rx="3.2" transform="rotate(101.25)" fill="#d9d9d9"/><rect x="-6.5" y="-78.5" width="13" height="8.5" rx="3.2" transform="rotate(123.75)" fill="#d9d9d9"/><rect x="-6.5" y="-78.5" width="13" height="8.5" rx="3.2" transform="rotate(146.25)" fill="#d9d9d9"/><rect x="-6.5" y="-78.5" width="13" height="8.5" rx="3.2" transform="rotate(168.75)" fill="#d9d9d9"/><rect x="-6.5" y="-78.5" width="13" height="8.5" rx="3.2" transform="rotate(191.25)" fill="#d9d9d9"/><rect x="-6.5" y="-78.5" width="13" height="8.5" rx="3.2" transform="rotate(213.75)" fill="#d9d9d9"/><rect x="-6.5" y="-78.5" width="13" height="8.5" rx="3.2" transform="rotate(236.25)" fill="#d9d9d9"/><rect x="-6.5" y="-78.5" width="13" height="8.5" rx="3.2" transform="rotate(258.75)" fill="#d9d9d9"/><rect x="-6.5" y="-78.5" width="13" height="8.5" rx="3.2" transform="rotate(281.25)" fill="#d9d9d9"/><rect x="-6.5" y="-78.5" width="13" height="8.5" rx="3.2" transform="rotate(303.75)" fill="#d9d9d9"/><rect x="-6.5" y="-78.5" width="13" height="8.5" rx="3.2" transform="rotate(326.25)" fill="#d9d9d9"/><rect x="-6.5" y="-78.5" width="13" height="8.5" rx="3.2" transform="rotate(348.75)" fill="#d9d9d9"/><circle r="66" fill="#d9d9d9" stroke="#03306e" stroke-width="1.3"/><circle r="68.5" fill="none" stroke="#d9d9d9" stroke-width="1.5"/></svg>
<svg style="left:1637.8px;top:2672.5px" width="200" height="200" viewBox="-100 -100 200 200"><circle cx="0.7" cy="-7.7" r="3.1" fill="#3f5da2"/><circle cx="5.8" cy="7.5" r="3.2" fill="#3f5da2"/><circle cx="-10.7" cy="-1.9" r="3.3" fill="#3f5da2"/><circle cx="10.3" cy="-6.5" r="3.4" fill="#3f5da2"/><circle cx="-3.5" cy="12.9" r="3.4" fill="#3f5da2"/><circle cx="-6.7" cy="-12.8" r="3.5" fill="#3f5da2"/><circle cx="14.5" cy="5.3" r="3.6" fill="#3f5da2"/><circle cx="-15.1" cy="6.2" r="3.6" fill="#3f5da2"/><circle cx="7.3" cy="-15.6" r="3.7" fill="#3f5da2"/><circle cx="5.4" cy="17.3" r="3.7" fill="#3f5da2"/><circle cx="-16.4" cy="-9.5" r="3.8" fill="#3f5da2"/><circle cx="19.2" cy="-4.2" r="3.8" fill="#6b85b8"/><circle cx="-11.7" cy="16.7" r="3.8" fill="#3f5da2"/><circle cx="-2.7" cy="-21.0" r="3.9" fill="#3f5da2"/><circle cx="16.7" cy="14.1" r="3.9" fill="#3f5da2"/><circle cx="-22.5" cy="0.9" r="3.9" fill="#3f5da2"/><circle cx="16.4" cy="-16.3" r="4.0" fill="#3f5da2"/><circle cx="-1.1" cy="23.8" r="4.0" fill="#3f5da2"/><circle cx="-15.6" cy="-18.7" r="4.0" fill="#3f5da2"/><circle cx="24.8" cy="3.3" r="4.0" fill="#6b85b8"/><circle cx="-21.0" cy="14.6" r="4.1" fill="#3f5da2"/><circle cx="5.7" cy="-25.5" r="4.1" fill="#3f5da2"/><circle cx="13.3" cy="23.2" r="4.1" fill="#3f5da2"/><circle cx="-26.0" cy="-8.3" r="4.1" fill="#3f5da2"/><circle cx="25.3" cy="-11.7" r="4.1" fill="#6b85b8"/><circle cx="-11.0" cy="26.2" r="4.2" fill="#3f5da2"/><circle cx="-9.8" cy="-27.2" r="4.2" fill="#3f5da2"/><circle cx="26.0" cy="13.7" r="4.2" fill="#6b85b8"/><circle cx="-28.9" cy="7.6" r="4.2" fill="#3f5da2"/><circle cx="16.4" cy="-25.6" r="4.2" fill="#3f5da2"/><circle cx="5.2" cy="30.4" r="4.2" fill="#3f5da2"/><circle cx="-24.8" cy="-19.2" r="4.2" fill="#3f5da2"/><circle cx="31.7" cy="-2.6" r="4.2" fill="#6b85b8"/><circle cx="-21.9" cy="23.7" r="4.2" fill="#3f5da2"/><circle cx="0.2" cy="-32.7" r="4.2" fill="#3f5da2"/><circle cx="22.3" cy="24.6" r="4.1" fill="#6b85b8"/><circle cx="-33.5" cy="-3.1" r="4.1" fill="#3f5da2"/><circle cx="27.2" cy="-20.6" r="4.1" fill="#6b85b8"/><circle cx="-6.2" cy="34.0" r="4.1" fill="#3f5da2"/><circle cx="-18.6" cy="-29.6" r="4.1" fill="#3f5da2"/><circle cx="34.1" cy="9.4" r="4.1" fill="#6b85b8"/><circle cx="-31.8" cy="16.3" r="4.1" fill="#3f5da2"/><circle cx="12.6" cy="-33.9" r="4.0" fill="#3f5da2"/><circle cx="13.8" cy="33.9" r="4.0" fill="#3f5da2"/><circle cx="-33.4" cy="-15.9" r="4.0" fill="#3f5da2"/><circle cx="35.8" cy="-11.0" r="4.0" fill="#6b85b8"/><circle cx="-19.1" cy="32.6" r="4.0" fill="#3f5da2"/><circle cx="-8.0" cy="-37.4" r="4.0" fill="#3f5da2"/><circle cx="31.5" cy="22.4" r="3.9" fill="#6b85b8"/><circle cx="-38.7" cy="4.8" r="3.9" fill="#3f5da2"/><circle cx="25.5" cy="-30.0" r="3.9" fill="#6b85b8"/><circle cx="1.4" cy="39.7" r="3.9" fill="#3f5da2"/><circle cx="-28.1" cy="-28.6" r="3.9" fill="#3f5da2"/><circle cx="40.4" cy="2.1" r="3.8" fill="#6b85b8"/><circle cx="-31.5" cy="26.0" r="3.8" fill="#3f5da2"/><circle cx="5.7" cy="-40.8" r="3.8" fill="#3f5da2"/><circle cx="23.6" cy="34.2" r="3.8" fill="#6b85b8"/><circle cx="-40.9" cy="-9.4" r="3.8" fill="#3f5da2"/><circle cx="36.8" cy="-20.8" r="3.8" fill="#6b85b8"/><circle cx="-13.2" cy="40.5" r="3.7" fill="#3f5da2"/><circle cx="-17.8" cy="-39.1" r="3.7" fill="#3f5da2"/><circle cx="39.9" cy="16.9" r="3.7" fill="#6b85b8"/><circle cx="-41.2" cy="14.6" r="3.7" fill="#3f5da2"/><circle cx="20.7" cy="-38.8" r="3.7" fill="#6b85b8"/><circle cx="11.1" cy="42.9" r="3.7" fill="#3f5da2"/><circle cx="-37.4" cy="-24.4" r="3.6" fill="#3f5da2"/><circle cx="44.4" cy="-7.4" r="3.6" fill="#6b85b8"/><circle cx="-27.9" cy="35.7" r="3.6" fill="#3f5da2"/><circle cx="-3.5" cy="-45.5" r="3.6" fill="#3f5da2"/><circle cx="33.6" cy="31.4" r="3.6" fill="#6b85b8"/><circle cx="-46.3" cy="-0.5" r="3.6" fill="#3f5da2"/><circle cx="34.7" cy="-31.2" r="3.5" fill="#6b85b8"/><circle cx="-4.6" cy="46.7" r="3.5" fill="#3f5da2"/><circle cx="-28.4" cy="-37.8" r="3.5" fill="#3f5da2"/><circle cx="46.8" cy="8.8" r="3.5" fill="#6b85b8"/><circle cx="-40.7" cy="25.3" r="3.5" fill="#3f5da2"/><circle cx="13.0" cy="-46.4" r="3.4" fill="#3f5da2"/><circle cx="21.9" cy="43.3" r="3.4" fill="#6b85b8"/><circle cx="-45.7" cy="-17.2" r="3.4" fill="#3f5da2"/><circle cx="45.6" cy="-18.3" r="3.4" fill="#6b85b8"/><circle cx="-21.4" cy="44.5" r="3.4" fill="#3f5da2"/><circle cx="-14.4" cy="-47.6" r="3.4" fill="#3f5da2"/><circle cx="43.0" cy="25.5" r="3.3" fill="#6b85b8"/><circle cx="-49.2" cy="10.3" r="3.3" fill="#3f5da2"/><circle cx="29.5" cy="-41.1" r="3.3" fill="#6b85b8"/><circle cx="6.0" cy="50.5" r="3.3" fill="#3f5da2"/><circle cx="-38.8" cy="-33.4" r="3.3" fill="#3f5da2"/><circle cx="51.5" cy="-1.6" r="3.3" fill="#6b85b8"/><circle cx="-37.1" cy="36.1" r="3.2" fill="#3f5da2"/><circle cx="2.9" cy="-52.0" r="3.2" fill="#3f5da2"/><circle cx="33.1" cy="40.5" r="3.2" fill="#6b85b8"/><circle cx="-52.1" cy="-7.5" r="3.2" fill="#3f5da2"/><circle cx="43.7" cy="-29.8" r="3.2" fill="#6b85b8"/><circle cx="-12.2" cy="51.8" r="3.1" fill="#3f5da2"/><circle cx="-26.1" cy="-46.7" r="3.1" fill="#3f5da2"/><circle cx="51.0" cy="16.9" r="3.1" fill="#6b85b8"/><circle cx="-49.3" cy="22.2" r="3.1" fill="#3f5da2"/><circle cx="21.5" cy="-49.9" r="3.1" fill="#6b85b8"/><circle cx="17.9" cy="51.5" r="3.1" fill="#3f5da2"/><circle cx="-48.3" cy="-26.0" r="3.0" fill="#3f5da2"/><circle cx="53.4" cy="-13.5" r="3.0" fill="#6b85b8"/><circle cx="-30.4" cy="46.3" r="3.0" fill="#3f5da2"/><circle cx="-8.9" cy="-54.9" r="3.0" fill="#3f5da2"/><circle cx="43.9" cy="34.7" r="3.0" fill="#6b85b8"/><circle cx="-56.0" cy="4.1" r="2.9" fill="#3f5da2"/><circle cx="38.8" cy="-41.0" r="2.9" fill="#6b85b8"/><circle cx="-0.9" cy="56.7" r="2.9" fill="#3f5da2"/><circle cx="-37.9" cy="-42.6" r="2.9" fill="#3f5da2"/><circle cx="56.9" cy="5.9" r="2.9" fill="#6b85b8"/><circle cx="-46.2" cy="34.3" r="2.9" fill="#3f5da2"/><circle cx="10.9" cy="-56.7" r="2.8" fill="#3f5da2"/><circle cx="30.4" cy="49.4" r="2.8" fill="#6b85b8"/><circle cx="-56.0" cy="-16.0" r="2.8" fill="#3f5da2"/><circle cx="52.3" cy="-26.2" r="2.8" fill="#6b85b8"/><circle cx="-21.0" cy="54.9" r="2.8" fill="#3f5da2"/><circle cx="-21.7" cy="-54.9" r="2.7" fill="#3f5da2"/><circle cx="53.3" cy="25.9" r="2.7" fill="#6b85b8"/><circle cx="-57.1" cy="17.0" r="2.7" fill="#3f5da2"/><circle cx="30.8" cy="-51.3" r="2.7" fill="#6b85b8"/><circle cx="12.0" cy="58.8" r="2.7" fill="#3f5da2"/><circle cx="-48.8" cy="-35.4" r="2.7" fill="#3f5da2"/><circle cx="60.1" cy="-6.9" r="2.6" fill="#6b85b8"/><circle cx="-39.9" cy="45.9" r="2.6" fill="#3f5da2"/><circle cx="-1.6" cy="-61.0" r="2.6" fill="#3f5da2"/><circle cx="42.5" cy="44.1" r="2.6" fill="#6b85b8"/><circle cx="-61.4" cy="-3.8" r="2.6" fill="#3f5da2"/><circle cx="48.0" cy="-38.8" r="2.5" fill="#6b85b8"/><circle cx="-9.2" cy="61.3" r="2.5" fill="#3f5da2"/><circle cx="-34.8" cy="-51.6" r="2.5" fill="#3f5da2"/><circle cx="60.7" cy="14.6" r="2.5" fill="#6b85b8"/><circle cx="-54.9" cy="30.3" r="2.5" fill="#3f5da2"/><circle cx="20.0" cy="-59.7" r="2.5" fill="#6b85b8"/><circle cx="25.6" cy="57.7" r="2.4" fill="#6b85b8"/><circle cx="-58.1" cy="-25.4" r="2.4" fill="#3f5da2"/><circle cx="60.2" cy="-20.6" r="2.4" fill="#6b85b8"/><circle cx="-30.6" cy="56.1" r="2.4" fill="#3f5da2"/><circle cx="-15.4" cy="-62.2" r="2.4" fill="#3f5da2"/><circle cx="53.6" cy="35.6" r="2.3" fill="#6b85b8"/><circle cx="-63.8" cy="10.0" r="2.3" fill="#3f5da2"/><circle cx="40.5" cy="-50.6" r="2.3" fill="#6b85b8"/><circle cx="4.4" cy="64.9" r="2.3" fill="#3f5da2"/><circle cx="-47.2" cy="-45.0" r="2.3" fill="#3f5da2"/><circle cx="65.5" cy="1.3" r="2.2" fill="#6b85b8"/><circle cx="-49.3" cy="43.4" r="2.2" fill="#3f5da2"/><circle cx="7.1" cy="-65.6" r="2.2" fill="#3f5da2"/><circle cx="39.2" cy="53.3" r="2.2" fill="#6b85b8"/><circle cx="-65.1" cy="-12.9" r="2.2" fill="#3f5da2"/><circle cx="56.9" cy="-34.6" r="2.2" fill="#6b85b8"/><circle cx="-18.6" cy="64.2" r="2.1" fill="#3f5da2"/><circle cx="-29.7" cy="-60.1" r="2.1" fill="#3f5da2"/><circle cx="62.7" cy="24.3" r="2.1" fill="#6b85b8"/><circle cx="-62.9" cy="24.5" r="2.1" fill="#3f5da2"/><circle cx="29.9" cy="-60.8" r="2.1" fill="#6b85b8"/><circle cx="19.0" cy="65.2" r="2.0" fill="#6b85b8"/><circle cx="-58.3" cy="-35.4" r="2.0" fill="#3f5da2"/><circle cx="67.1" cy="-13.3" r="2.0" fill="#6b85b8"/><circle cx="-40.6" cy="55.3" r="2.0" fill="#3f5da2"/><circle cx="-7.5" cy="-68.4" r="2.0" fill="#3f5da2"/><circle cx="51.9" cy="45.5" r="1.9" fill="#6b85b8"/><circle cx="-69.2" cy="1.5" r="1.9" fill="#3f5da2"/><circle cx="50.2" cy="-48.0" r="1.9" fill="#6b85b8"/><circle cx="-4.6" cy="69.5" r="1.9" fill="#3f5da2"/><circle cx="-43.7" cy="-54.6" r="1.9" fill="#3f5da2"/><circle cx="69.3" cy="10.7" r="1.8" fill="#6b85b8"/><circle cx="-58.5" cy="39.0" r="1.8" fill="#3f5da2"/><circle cx="16.9" cy="-68.5" r="1.8" fill="#3f5da2"/><circle cx="33.9" cy="62.1" r="1.8" fill="#6b85b8"/><circle cx="-67.1" cy="-22.9" r="1.8" fill="#3f5da2"/><circle cx="65.2" cy="-28.5" r="1.8" fill="#6b85b8"/><circle cx="-28.9" cy="65.3" r="1.7" fill="#3f5da2"/><circle cx="-22.9" cy="-67.8" r="1.7" fill="#3f5da2"/><circle cx="62.9" cy="34.7" r="1.7" fill="#6b85b8"/><circle cx="-70.0" cy="16.9" r="1.7" fill="#3f5da2"/><circle cx="40.3" cy="-59.9" r="1.7" fill="#6b85b8"/><circle cx="10.8" cy="71.6" r="1.6" fill="#3f5da2"/><circle cx="-56.5" cy="-45.6" r="1.6" fill="#3f5da2"/><circle cx="72.7" cy="-4.5" r="1.6" fill="#6b85b8"/><circle cx="-50.7" cy="52.6" r="1.6" fill="#3f5da2"/><circle cx="1.8" cy="-73.2" r="1.6" fill="#3f5da2"/><circle cx="48.2" cy="55.4" r="1.5" fill="#6b85b8"/><circle cx="-73.2" cy="-8.3" r="1.5" fill="#3f5da2"/><circle cx="59.7" cy="-43.4" r="1.5" fill="#6b85b8"/><circle cx="-14.7" cy="72.6" r="1.5" fill="#3f5da2"/><circle cx="-38.3" cy="-63.6" r="1.5" fill="#3f5da2"/><circle cx="71.4" cy="21.1" r="1.4" fill="#6b85b8"/><circle cx="-67.1" cy="32.7" r="1.4" fill="#3f5da2"/><circle cx="27.4" cy="-69.6" r="1.4" fill="#6b85b8"/><circle cx="26.9" cy="70.1" r="1.4" fill="#6b85b8"/><circle cx="-67.3" cy="-33.6" r="1.4" fill="#3f5da2"/><circle cx="72.5" cy="-20.8" r="1.4" fill="#6b85b8"/><circle cx="-39.6" cy="64.5" r="1.3" fill="#3f5da2"/><circle cx="-14.4" cy="-74.4" r="1.3" fill="#3f5da2"/><circle cx="61.1" cy="45.3" r="1.3" fill="#6b85b8"/><circle cx="-75.8" cy="7.9" r="1.3" fill="#3f5da2"/><circle cx="50.7" cy="-57.2" r="1.3" fill="#6b85b8"/><circle cx="1.2" cy="76.6" r="1.2" fill="#3f5da2"/><circle cx="-52.8" cy="-55.8" r="1.2" fill="#3f5da2"/><circle cx="76.8" cy="5.5" r="1.2" fill="#6b85b8"/><circle cx="-60.5" cy="47.9" r="1.2" fill="#3f5da2"/><circle cx="12.2" cy="-76.4" r="1.2" fill="#3f5da2"/><circle cx="42.7" cy="64.8" r="1.1" fill="#6b85b8"/><circle cx="-75.4" cy="-19.0" r="1.1" fill="#3f5da2"/><circle cx="68.6" cy="-37.0" r="1.1" fill="#6b85b8"/><circle cx="-25.6" cy="73.8" r="1.1" fill="#3f5da2"/><circle cx="-31.0" cy="-71.9" r="1.1" fill="#3f5da2"/><circle cx="71.6" cy="32.1" r="1.0" fill="#6b85b8"/><circle cx="-74.7" cy="24.8" r="1.0" fill="#3f5da2"/><circle cx="38.5" cy="-68.9" r="1.0" fill="#6b85b8"/><circle cx="18.2" cy="77.0" r="1.0" fill="#6b85b8"/><circle cx="-65.6" cy="-44.5" r="1.0" fill="#3f5da2"/><circle cx="78.6" cy="-11.5" r="0.9" fill="#6b85b8"/><circle cx="-50.3" cy="61.7" r="0.9" fill="#3f5da2"/><circle cx="-4.6" cy="-79.7" r="0.9" fill="#3f5da2"/><circle cx="57.3" cy="55.8" r="0.9" fill="#6b85b8"/><circle cx="-80.2" cy="-2.4" r="0.9" fill="#3f5da2"/><circle cx="60.9" cy="-52.5" r="0.9" fill="#6b85b8"/><circle cx="-9.5" cy="80.0" r="0.9" fill="#3f5da2"/><circle cx="-47.2" cy="-65.5" r="0.9" fill="#3f5da2"/><circle cx="79.2" cy="16.5" r="0.9" fill="#6b85b8"/><circle cx="-69.7" cy="41.5" r="0.9" fill="#3f5da2"/><circle cx="23.5" cy="-77.9" r="0.9" fill="#6b85b8"/><circle cx="35.4" cy="73.4" r="0.9" fill="#6b85b8"/><circle cx="-75.8" cy="-30.3" r="0.9" fill="#3f5da2"/><circle cx="76.6" cy="-28.9" r="0.9" fill="#6b85b8"/><circle cx="-37.0" cy="73.2" r="0.9" fill="#3f5da2"/><circle cx="-22.2" cy="-79.2" r="0.9" fill="#3f5da2"/><circle cx="70.0" cy="43.5" r="0.9" fill="#6b85b8"/><circle cx="-81.2" cy="15.3" r="0.9" fill="#3f5da2"/><circle cx="49.6" cy="-66.2" r="0.9" fill="#6b85b8"/><circle cx="8.2" cy="82.5" r="0.9" fill="#3f5da2"/><circle cx="-61.9" cy="-55.5" r="0.9" fill="#3f5da2"/><circle cx="83.3" cy="-0.9" r="0.9" fill="#6b85b8"/><circle cx="-60.9" cy="57.1" r="0.9" fill="#3f5da2"/><circle cx="6.4" cy="-83.4" r="0.9" fill="#3f5da2"/><circle cx="51.7" cy="66.0" r="0.9" fill="#6b85b8"/><circle cx="-82.9" cy="-13.7" r="0.9" fill="#3f5da2"/><circle cx="70.5" cy="-46.0" r="0.9" fill="#6b85b8"/><circle cx="-21.0" cy="81.7" r="0.9" fill="#3f5da2"/><circle cx="-39.8" cy="-74.6" r="0.9" fill="#3f5da2"/><circle cx="79.9" cy="28.2" r="0.9" fill="#6b85b8"/><circle cx="-78.1" cy="33.3" r="0.9" fill="#3f5da2"/><circle cx="35.2" cy="-77.4" r="0.9" fill="#6b85b8"/><circle cx="26.4" cy="81.1" r="0.9" fill="#6b85b8"/><circle cx="-74.4" cy="-42.0" r="0.9" fill="#3f5da2"/><circle cx="83.4" cy="-19.3" r="0.9" fill="#6b85b8"/><circle cx="-48.6" cy="70.7" r="0.9" fill="#3f5da2"/><circle cx="-12.0" cy="-85.1" r="0.9" fill="#3f5da2"/><circle cx="66.5" cy="54.8" r="0.9" fill="#6b85b8"/><circle cx="-86.2" cy="4.5" r="0.9" fill="#3f5da2"/><circle cx="60.6" cy="-61.7" r="0.9" fill="#6b85b8"/><circle cx="-3.0" cy="86.6" r="0.9" fill="#3f5da2"/><circle cx="-56.3" cy="-66.0" r="0.9" fill="#3f5da2"/><circle cx="86.3" cy="10.6" r="0.9" fill="#6b85b8"/><circle cx="-71.0" cy="50.6" r="0.9" fill="#3f5da2"/><circle cx="18.2" cy="-85.4" r="0.9" fill="#6b85b8"/><circle cx="44.3" cy="75.4" r="0.9" fill="#6b85b8"/><circle cx="-83.8" cy="-25.7" r="0.9" fill="#3f5da2"/><circle cx="79.3" cy="-37.7" r="0.9" fill="#6b85b8"/></svg>
<div class="t gy" style="left:34.0px;top:379.0px;font-size:80px;transform:scaleX(0.9042);">TL;DR</div>
<div class="t gy" style="left:83.0px;top:935.0px;font-size:79px;transform:scaleX(1.0041);">Setting: Continual Linear Regression</div>
<div class="t gy" style="left:1489.0px;top:371.0px;font-size:80px;transform:scaleX(1.0338);">Analytical flow</div>
<div class="t gy" style="left:1471.0px;top:1309.0px;font-size:80px;transform:scaleX(1.0116);">Explicit <span class="m">ℓ</span><sub style="font-size:.62em">2</sub> &amp; Budgeted Updates <svg class="g" style="position:static;display:inline-block;width:0.92em;height:0.55em;vertical-align:-0.02em" viewBox="0 0 100 60"><path d="M4 20H78M4 40H78M66 4 94 30 66 56" fill="none" stroke="currentColor" stroke-width="5" stroke-linecap="butt"/></svg> Incremental GD</div>
<div class="t gy" style="left:1486.0px;top:1988.0px;font-size:80px;transform:scaleX(1.0090);">Optimal Rate via Increasing Regularization</div>
<div class="t gy" style="left:3479.0px;top:364.0px;font-size:80px;transform:scaleX(0.9870);">Convergence of Random Order IGD</div>
<div class="t gy" style="left:57.7px;top:284.6px;font-size:38px;transform:scaleX(0.9937);">2506.06501</div>
<div class="t pu" style="left:345.0px;top:37.8px;font-size:109.6px;transform:scaleX(1.0024);">Optimal Rates in Continual Linear Regression via Increasing Regularization</div>
<div class="t gy" style="left:344.0px;top:180.2px;font-size:109.6px;transform:scaleX(1.0133);">Levinstein*, Attia*, Schliserman*, Sherman*, Koren, Soudry, and Evron</div>
<div class="t" style="left:4465.0px;top:120.5px;font-size:32px;transform:scaleX(1.0359);color:#2f3237">NEURAL INFORMATION</div>
<div class="t" style="left:4465.0px;top:155.3px;font-size:32px;transform:scaleX(0.9915);color:#2f3237">PROCESSING SYSTEMS</div>
<div class="t" style="left:87.0px;top:481.2px;font-size:45px;transform:scaleX(1.0600);word-spacing:6.95px;">For any algorithm continual linear regression under random</div>
<div class="t" style="left:87.0px;top:534.7px;font-size:45px;transform:scaleX(1.0411);">orderings has a <span class="mb">Ω(1/k)</span> lower bound.</div>
<div class="t" style="left:87.0px;top:606.4px;font-size:45px;transform:scaleX(1.0983);">Prior unregularized methods only achieved <span class="mbi">O</span><span class="mb">(1/</span><span class="mb" style="font-size:.6em;position:relative;top:-.55em;margin-right:-.35em">4</span><span class="mb">√</span><span class="mbi" style="border-top:.06em solid #000">k</span><span class="mb">)</span>. <sup style="font-size:.55em;top:-.35em">[1]</sup></div>
<div class="t" style="left:87.0px;top:683.3px;font-size:45px;transform:scaleX(1.0349);">We show that <b>regularization closes the gap</b>:</div>
<div class="t" style="left:130.2px;top:738.0px;font-size:45px;transform:scaleX(1.0829);"><b>Fixed</b> strength <svg class="g" style="position:static;display:inline-block;width:0.9em;height:0.6em;vertical-align:-0.06em" viewBox="0 0 100 66"><path d="M4 33H90M62 5 92 33 62 61" fill="none" stroke="currentColor" stroke-width="8.5" stroke-linecap="butt"/></svg> <span class="mbi">O</span><span class="mb">(log k/</span><span class="mbi">k</span><span class="mb">)</span>.</div>
<div class="t" style="left:130.2px;top:802.0px;font-size:45px;transform:scaleX(1.0717);"><b>Increasing</b> strength <svg class="g" style="position:static;display:inline-block;width:0.9em;height:0.6em;vertical-align:-0.06em" viewBox="0 0 100 66"><path d="M4 33H90M62 5 92 33 62 61" fill="none" stroke="currentColor" stroke-width="8.5" stroke-linecap="butt"/></svg> <b>optimal</b> <span class="mbi">O</span><span class="mb">(1/</span><span class="mbi">k</span><span class="mb">)</span>.</div>
<div class="t" style="left:89.0px;top:1033.8px;font-size:44.3px;transform:scaleX(1.0107);"><span class="pu">Input:</span> <span class="mr">M</span> linear regression tasks <span class="mr">(</span><span class="mb">X</span><sub><span class="mr">1</span></sub><span class="mr">,</span> <span class="mb">y</span><sub><span class="mr">1</span></sub><span class="mr">)</span> <span class="mr">…</span> <span class="mr">(</span><span class="mb">X</span><sub><span class="mr">M</span></sub><span class="mr">,</span> <span class="mb">y</span><sub><span class="mr">M</span></sub><span class="mr">)</span> arriving in</div>
<div class="t" style="left:89.0px;top:1093.0px;font-size:44.3px;transform:scaleX(0.9429);">order <span class="m">τ</span><sub><span class="mr">1</span></sub><span class="mr">, … ,</span> <span class="m">τ</span><sub><span class="m">k</span></sub><span class="mr">.</span></div>
<div class="t" style="left:89.0px;top:1153.3px;font-size:44.3px;transform:scaleX(1.0677);"><span class="pu">Goal:</span> maintain a single model <span class="mb">w</span> <svg class="g" style="position:static;display:inline-block;width:0.62em;height:0.62em;vertical-align:-0.03em" viewBox="0 0 60 60"><path d="M56 6H32a24 24 0 0 0 0 48h24M9 30h47" fill="none" stroke="currentColor" stroke-width="6.5" stroke-linecap="butt"/></svg> <span class="bb">R</span><sup><span class="m">d</span></sup> throughout the</div>
<div class="t" style="left:89.0px;top:1226.6px;font-size:44.3px;transform:scaleX(1.1037);">sequence and minimize <span class="m">L</span><span class="mr">(</span><span class="mb">w</span><span class="mr">)</span> <span class="mr">=</span> <span class="fr" style=""><span><span class="mr">1</span></span><span><span class="mr">2M</span></span></span><span class="mr">∑</span><span class="ss"><span><span class="mr">M</span></span><span><span class="mr">m=1</span></span></span><span class="nm">||</span><span class="mb">X</span><sub><span class="mr">m</span></sub><span class="mb">w</span> <span class="mr">−</span> <span class="mb">y</span><sub><span class="mr">m</span></sub><span class="nm">||</span><sup><span class="mr">2</span></sup><span class="mr">.</span></div>
<div class="t" style="left:89.0px;top:1303.0px;font-size:44.3px;transform:scaleX(1.0444);"><span class="pu">Realizability Assumption:</span> all tasks share common solution <span class="mb">w</span><sub style="top:.12em"><svg class="g" style="position:static;display:inline-block;width:.5em;height:.5em;vertical-align:-.22em" viewBox="-10 -10 20 20"><path d="M0-9 2.1-2.9 8.6-2.8 3.4 1.1 5.3 7.3 0 3.6-5.3 7.3-3.4 1.1-8.6-2.8-2.1-2.9Z" fill="currentColor"/></svg></sub> .</div>
<div class="t" style="left:89.0px;top:1371.4px;font-size:44.3px;transform:scaleX(1.0256);"><span class="pu">Two Regularization Schemes:</span></div>
<div class="t s" style="left:57.0px;top:1495.0px;font-size:52px;transform:scaleX(0.9844);"><b>Scheme 1</b> Regularized continual linear regression</div>
<div class="t s" style="left:63.0px;top:1580.6px;font-size:52px;transform:scaleX(1.0574);"><b>Input:</b> Regression tasks {(<span class="mb">X</span><sub><span class="m">m</span></sub>, <span class="mb">y</span><sub><span class="m">m</span></sub>)}<span class="ss"><span><span class="m">M</span></span><span><span class="m">m</span>=1</span></span>, task ordering <span class="m">τ</span>.</div>
<div class="t s" style="left:63.0px;top:1655.0px;font-size:52px;transform:scaleX(1.0762);">Initialize <span class="mb">w</span><sub>0</sub> = <span class="mb">0</span><sub><span class="m">d</span></sub></div>
<div class="t s" style="left:63.0px;top:1710.0px;font-size:52px;transform:scaleX(0.9968);">For each iteration <span class="m">t</span> = 1, . . . , <span class="m">k</span>:</div>
<div class="t s" style="left:120.0px;top:1770.0px;font-size:52px;transform:scaleX(1.0800);word-spacing:5.14px;"><span class="mb">w</span><sub><span class="m">t</span></sub> <svg class="g" style="position:static;display:inline-block;width:0.9em;height:0.54em;vertical-align:-0.06em" viewBox="0 0 100 60"><path d="M96 30H8M26 14 8 30 26 46" fill="none" stroke="currentColor" stroke-width="3.5" stroke-linecap="butt"/></svg> arg min<sub><span class="mb">w</span></sub> { <span class="fr" style=""><span>1</span><span>2</span></span> <span class="nm">||</span><span class="mb">X</span><sub><span class="m">τ</span><sub style="font-size:.75em"><span class="m">t</span></sub></sub><span class="mb">w</span> − <span class="mb">y</span><sub><span class="m">τ</span><sub style="font-size:.75em"><span class="m">t</span></sub></sub><span class="nm">||</span><sup>2</sup> + <span class="fr" style=""><span><span class="m">λ</span><sub><span class="m">t</span></sub></span><span>2</span></span> <span class="nm">||</span><span class="mb">w</span> − <span class="mb">w</span><sub><span class="m">t</span>−1</sub><span class="nm">||</span><sup>2</sup> }</div>
<div class="t s" style="left:63.0px;top:1831.0px;font-size:52px;transform:scaleX(1.0276);">Output <span class="mb">w</span><sub><span class="m">k</span></sub></div>
<div class="t s" style="left:57.0px;top:1936.8px;font-size:52px;transform:scaleX(0.9640);"><b>Scheme 2</b> Continual linear regression with finite step budgets</div>
<div class="t s" style="left:63.0px;top:2023.4px;font-size:52px;transform:scaleX(1.0383);"><b>Input:</b> Regression tasks {(<span class="mb">X</span><sub><span class="m">m</span></sub>, <span class="mb">y</span><sub><span class="m">m</span></sub>)}<span class="ss"><span><span class="m">M</span></span><span><span class="m">m</span>=1</span></span>, task ordering <span class="m">τ</span>,</div>
<div class="t s" style="left:109.0px;top:2093.8px;font-size:52px;transform:scaleX(1.0294);">inner step counts and sizes (<span class="m">N</span><sub><span class="m">t</span></sub>, <span class="m">γ</span><sub><span class="m">t</span></sub>)<span class="ss"><span><span class="m">k</span></span><span><span class="m">t</span>=1</span></span>.</div>
<div class="t s" style="left:63.0px;top:2168.0px;font-size:52px;transform:scaleX(1.0507);">Initialize <span class="mb">w</span><sub>0</sub> = <span class="mb">0</span><sub><span class="m">d</span></sub></div>
<div class="t s" style="left:63.0px;top:2223.5px;font-size:52px;transform:scaleX(0.9755);">For each task <span class="m">t</span> = 1, . . . , <span class="m">k</span>:</div>
<div class="t s" style="left:117.0px;top:2280.7px;font-size:52px;transform:scaleX(1.0801);">Initialize <span class="mb">w</span><sup>(0)</sup> <svg class="g" style="position:static;display:inline-block;width:0.9em;height:0.54em;vertical-align:-0.06em" viewBox="0 0 100 60"><path d="M96 30H8M26 14 8 30 26 46" fill="none" stroke="currentColor" stroke-width="3.5" stroke-linecap="butt"/></svg> <span class="mb">w</span><sub><span class="m">t</span>−1</sub></div>
<div class="t s" style="left:117.0px;top:2335.0px;font-size:52px;transform:scaleX(1.0077);">For <span class="m">s</span> = 1, . . . , <span class="m">N</span><sub><span class="m">t</span></sub>:</div>
<div class="t s" style="left:174.0px;top:2401.6px;font-size:52px;transform:scaleX(1.1300);word-spacing:10.22px;"><span class="mb">w</span><sup>(<span class="m">s</span>)</sup> <svg class="g" style="position:static;display:inline-block;width:0.9em;height:0.54em;vertical-align:-0.06em" viewBox="0 0 100 60"><path d="M96 30H8M26 14 8 30 26 46" fill="none" stroke="currentColor" stroke-width="3.5" stroke-linecap="butt"/></svg> <span class="mb">w</span><sup>(<span class="m">s</span>−1)</sup> − <span class="m">γ</span><sub><span class="m">t</span></sub><span class="fl mr" style="transform:rotate(180deg) translateY(.04em)">Δ</span><span class="fr" style=""><span>1</span><span>2</span></span> <span class="nm">||</span><span class="mb">X</span><sub><span class="m">τ</span><sub style="font-size:.75em"><span class="m">t</span></sub></sub><span class="mb">w</span><sup>(<span class="m">s</span>−1)</sup> − <span class="mb">y</span><sub><span class="m">τ</span><sub style="font-size:.75em"><span class="m">t</span></sub></sub><span class="nm">||</span><sup>2</sup></div>
<div class="t s" style="left:119.0px;top:2475.0px;font-size:52px;transform:scaleX(1.1000);word-spacing:8.82px;"><span class="mb">w</span><sub><span class="m">t</span></sub> <svg class="g" style="position:static;display:inline-block;width:0.9em;height:0.54em;vertical-align:-0.06em" viewBox="0 0 100 60"><path d="M96 30H8M26 14 8 30 26 46" fill="none" stroke="currentColor" stroke-width="3.5" stroke-linecap="butt"/></svg> <span class="mb">w</span><sup>(<span class="m">N</span><sub style="font-size:.75em"><span class="m">t</span></sub>)</sup></div>
<div class="t s" style="left:63.0px;top:2527.6px;font-size:52px;transform:scaleX(1.0134);">Output <span class="mb">w</span><sub><span class="m">k</span></sub></div>
<div class="t" style="left:1592.0px;top:601.4px;font-size:40px;transform:scaleX(1.0053);"><b>Continual</b></div>
<div class="t" style="left:1509.5px;top:653.8px;font-size:40px;transform:scaleX(0.9674);"><b>Linear Regression:</b></div>
<div class="t" style="left:1543.0px;top:706.4px;font-size:35.5px;transform:scaleX(1.0470);">explicit, isotropic,</div>
<div class="t" style="left:1554.0px;top:746.3px;font-size:35.5px;transform:scaleX(1.0511);"><span class="m">ℓ</span><sub><span class="mr">2</span></sub> <span class="u">regularization</span></div>
<div class="t" style="left:1592.0px;top:899.0px;font-size:40px;transform:scaleX(1.0053);"><b>Continual</b></div>
<div class="t" style="left:1509.5px;top:951.5px;font-size:40px;transform:scaleX(0.9674);"><b>Linear Regression:</b></div>
<div class="t" style="left:1481.7px;top:1003.4px;font-size:35.5px;transform:scaleX(1.0491);">implicit <span class="u">regularization</span> via</div>
<div class="t" style="left:1502.0px;top:1050.0px;font-size:35.5px;transform:scaleX(1.0101);">finite step size budgets</div>
<div class="t" style="left:2003.7px;top:736.4px;font-size:40px;transform:scaleX(0.9959);"><b>Incremental GD:</b></div>
<div class="t" style="left:2010.5px;top:789.0px;font-size:35.5px;transform:scaleX(1.0378);">Smooth functions,</div>
<div class="t" style="left:1978.7px;top:835.9px;font-size:35.5px;transform:scaleX(1.0183);"><span class="u">tunable</span> smoothness &amp;</div>
<div class="t" style="left:2089.9px;top:881.5px;font-size:35.5px;transform:scaleX(0.9715);">step size</div>
<div class="t" style="left:2001.7px;top:928.0px;font-size:35.5px;transform:scaleX(1.0033);">(fixed or scheduled)</div>
<div class="t" style="left:2429.9px;top:738.9px;font-size:40px;transform:scaleX(0.9795);"><b>Random Order IGD:</b></div>
<div class="t" style="left:2466.2px;top:791.2px;font-size:35.5px;transform:scaleX(1.0424);">Smooth functions,</div>
<div class="t" style="left:2434.8px;top:838.6px;font-size:35.5px;transform:scaleX(1.0191);"><span class="u">tunable</span> smoothness &amp;</div>
<div class="t" style="left:2544.5px;top:884.5px;font-size:35.5px;transform:scaleX(0.9786);">step size</div>
<div class="t" style="left:2457.3px;top:930.8px;font-size:35.5px;transform:scaleX(1.0026);">(fixed or scheduled)</div>
<div class="t" style="left:2907.5px;top:636.7px;font-size:40px;transform:scaleX(0.9732);"><b>Loss / Forgetting&nbsp; Rate:</b></div>
<div class="t" style="left:2928.4px;top:684.5px;font-size:35.5px;transform:scaleX(1.0286);">near optimal <span class="m">O</span><span class="mr">(log </span><span class="m">k</span><span class="mr">/</span><span class="m">k</span><span class="mr">)</span></div>
<div class="t" style="left:2943.4px;top:740.4px;font-size:35.5px;transform:scaleX(1.0231);">via <span class="u">fixed</span> regularization</div>
<div class="t" style="left:2907.5px;top:908.4px;font-size:40px;transform:scaleX(0.9732);"><b>Loss / Forgetting&nbsp; Rate:</b></div>
<div class="t" style="left:2998.2px;top:956.2px;font-size:35.5px;transform:scaleX(1.0651);">optimal <span class="m">O</span><span class="mr">(1/</span><span class="m">k</span><span class="mr">)</span></div>
<div class="t" style="left:2900.0px;top:1013.1px;font-size:35.5px;transform:scaleX(1.0196);">via <span class="u">increasing</span> regularization</div>
<div class="t or" style="left:2989.2px;top:1113.8px;font-size:38.3px;transform:scaleX(1.0169);">Last-Iterate SGD</div>
<div class="t or" style="left:2975.8px;top:1166.1px;font-size:38.3px;transform:scaleX(1.0482);">Analysis for Time-</div>
<div class="t or" style="left:2975.8px;top:1218.0px;font-size:38.3px;transform:scaleX(1.0554);">Varying Functions</div>
<div class="t pu" style="left:2177.0px;top:1220.0px;font-size:37px;transform:scaleX(1.0675);"><b>Random Task Orderings</b></div>
<div class="t" style="left:1530.6px;top:1430.8px;font-size:47px;transform:scaleX(1.0225);">Both schemes produce <b>exactly</b> the IGD update: <span class="mb">w</span><sub><span class="mr">t</span></sub>&nbsp; <span class="mr">=</span>&nbsp; <span class="mb">w</span><sub><span class="mr">t−1</span></sub>&nbsp; <span class="mr">−</span>&nbsp; <span class="m">η</span><sub><span class="m">t</span></sub><span class="fl mr" style="transform:rotate(180deg) translateY(.04em)">Δ</span>&thinsp;<span class="m">f</span><sup style="margin-left:.2em"><span class="mr">(</span><span class="m">t</span><span class="mr">)</span></sup>&thinsp;<span class="mr">(</span><span class="mb">w</span><sub><span class="mr">t−1</span></sub><span class="mr">;</span>&nbsp; <span class="mr">τ</span><sub><span class="mr">t</span></sub> <span class="mr">)</span>, for</div>
<div class="t" style="left:1530.6px;top:1500.6px;font-size:47px;transform:scaleX(1.0450);">ordering <span class="mr">τ</span>, step sizes <span class="mr">{</span><span class="m">η</span><sub><span class="m">t</span></sub><span class="mr">}</span>, and time-varying functions <span class="mr">{</span><span class="m">f</span><sup style="margin-left:.2em"><span class="mr">(</span><span class="m">t</span><span class="mr">)</span></sup><span class="mr">}</span> defined as</div>
<div class="t" style="left:1528.0px;top:1628.2px;font-size:47px;transform:scaleX(1.1006);"><span class="m">f</span><sup style="margin-left:.2em"><span class="mr">(</span><span class="m">t</span><span class="mr">)</span></sup><span class="mr">(</span><span class="mb">w</span><span class="mr">;</span> <span class="m">m</span><span class="mr">)</span> <span class="mr">=</span> <span class="fr" style=""><span><span class="mr">1</span></span><span><span class="mr">2</span></span></span><span class="fl mr" style="transform:scaleY(2.45);transform-origin:50% 68%;letter-spacing:-.05em;font-weight:normal">||</span><span style="display:inline-block;width:.62em"></span><span class="fl" style="position:relative"><svg class="g" style="position:absolute;left:-.62em;top:-.38em;width:.7em;height:1.75em" viewBox="0 0 40 100" preserveAspectRatio="none"><path d="M2 66 9 62 21 96 37 2" fill="none" stroke="currentColor" stroke-width="3.4"/></svg><span style="border-top:.06em solid #000;display:inline-block;padding-top:.30em;margin-top:-.30em"><span class="mb">A</span><span class="ss"><span><span class="mr">(</span><span class="m">t</span><span class="mr">)</span></span><span><span class="mr">m</span></span></span></span></span><span class="mr">(</span><span class="mb">w</span> <span class="mr">−</span> <span class="mb">X</span><span class="ss"><span><span class="mr">+</span></span><span><span class="mr">m</span></span></span><span class="mbi">y</span><sub><span class="mr">m</span></sub><span class="mr">)</span><span class="fl mr" style="transform:scaleY(2.45);transform-origin:50% 68%;letter-spacing:-.05em;font-weight:normal">||</span><sup style="top:-1.45em"><span class="mr">2</span></sup> for <span class="m">t</span> <span class="mr">= 1, … ,</span> <span class="m">k</span>, with:</div>
<div class="t" style="left:1574.8px;top:1732.7px;font-size:47px;transform:scaleX(1.1062);"><span class="pu">Explicit ℓ<sub style="font-size:.62em;top:.3em">2</sub>:</span> <span class="mb">A</span><span class="ss"><span><span class="mr">(</span><span class="m">t</span><span class="mr">)</span></span><span><span class="mr">m</span></span></span> <span class="mr">=</span> <span class="fr" style="font-size:.8em"><span><span class="mr">1</span></span><span><span class="m">η</span><sub><span class="m">t</span></sub></span></span><span class="mr">(</span><span class="mb">I</span> <span class="mr">−</span> <span class="m">λ</span><sub><span class="m">t</span></sub><span class="mr">(</span><span class="mb">X</span><span class="ss"><span>T</span><span><span class="mr">m</span></span></span><span class="mb">X</span><sub><span class="mr">m</span></sub> <span class="mr">+</span> <span class="m">λ</span><sub><span class="m">t</span></sub><span class="mb">I</span><span class="mr">)</span><sup><span class="mr">−1</span></sup><span class="mr">)</span>.</div>
<div class="t" style="left:1574.8px;top:1829.7px;font-size:47px;transform:scaleX(1.0812);"><span class="pu">Budgeted:</span> <span class="mb">A</span><span class="ss"><span><span class="mr">(</span><span class="m">t</span><span class="mr">)</span></span><span><span class="mr">m</span></span></span> <span class="mr">=</span> <span class="fr" style="font-size:.8em"><span><span class="mr">1</span></span><span><span class="m">η</span><sub><span class="m">t</span></sub></span></span><span class="mr">(</span><span class="mb">I</span> <span class="mr">−</span> <span class="mr">(</span><span class="mb">I</span> <span class="mr">−</span> <span class="m">γ</span><sub><span class="m">t</span></sub> <span class="mb">X</span><span class="ss"><span>T</span><span><span class="mr">m</span></span></span><span class="mb">X</span><sub><span class="mr">m</span></sub><span class="mr">)</span><sup><span class="m">N</span><sub style="font-size:.75em"><span class="m">t</span></sub></sup> <span class="mr">)</span>.</div>
<div class="t" style="left:1488.0px;top:2182.2px;font-size:46.5px;transform:scaleX(1.0659);"><span class="pu">Main Theorem:</span> Both schemes achieve the optimal rate of <span class="mbi">O</span><span class="mb">(1/</span><span class="mbi">k</span><span class="mb">)</span> by choosing either</div>
<div class="t" style="left:1539.7px;top:2276.4px;font-size:46.5px;transform:scaleX(1.0656);"><span class="m">λ</span><sub><span class="m">t</span></sub> <svg class="g" style="position:static;display:inline-block;width:0.9em;height:0.64em;vertical-align:-0.04em" viewBox="0 0 70 50"><path d="M64 8C50 8 44 42 24 42a17 17 0 0 1 0-34C44 8 50 42 64 42" fill="none" stroke="currentColor" stroke-width="5.2" stroke-linecap="butt"/></svg> <span class="fr" style="font-size:.8em"><span><span class="m">k</span><span class="mr">+1</span></span><span><span class="m">k</span><span class="mr">+2−</span><span class="m">t</span></span></span>&nbsp; for the explicit regularization.</div>
<div class="t" style="left:1541.8px;top:2399.0px;font-size:46.5px;transform:scaleX(1.0584);"><span class="m">N</span><sub><span class="m">t</span></sub> <svg class="g" style="position:static;display:inline-block;width:0.9em;height:0.64em;vertical-align:-0.04em" viewBox="0 0 70 50"><path d="M64 8C50 8 44 42 24 42a17 17 0 0 1 0-34C44 8 50 42 64 42" fill="none" stroke="currentColor" stroke-width="5.2" stroke-linecap="butt"/></svg> <span class="fr" style="font-size:.8em"><span><span class="m">k</span><span class="mr">+2−</span><span class="m">t</span></span><span><span class="m">γ</span><sub><span class="m">t</span></sub><span class="mr">(</span><span class="m">k</span><span class="mr">+1)</span></span></span> for the budgeted updates.</div>
<div class="t" style="left:3484.0px;top:557.7px;font-size:47.2px;transform:scaleX(1.0301);"><span class="pu">Key Lemma:</span> Let <span class="m">f</span>&thinsp;<span class="mr">(· ;</span> <span class="m">m</span><span class="mr">)</span> be convex and <span class="m">β</span>-smooth for each</div>
<div class="t" style="left:3484.0px;top:638.5px;font-size:47.2px;transform:scaleX(1.0787);"><span class="m">m</span> <svg class="g" style="position:static;display:inline-block;width:0.62em;height:0.62em;vertical-align:-0.03em" viewBox="0 0 60 60"><path d="M56 6H32a24 24 0 0 0 0 48h24M9 30h47" fill="none" stroke="currentColor" stroke-width="6.5" stroke-linecap="butt"/></svg> <span class="mr">[</span><span class="m">M</span><span class="mr">]</span>. Let <span class="m">f</span>&thinsp;<span class="mr">(</span><span class="mb">w</span><span class="mr">)</span> <span class="mr">=</span> <span class="bb">E</span><sub><span class="m">m</span><span class="mr">~</span><span class="m">τ</span></sub><span class="mr">[</span><span class="m">f</span>&thinsp;<span class="mr">(</span><span class="mb">w</span><span class="mr">;</span> <span class="m">m</span><span class="mr">)]</span>. For each <span class="m">t</span> <span class="mr">≤</span>&nbsp; <span class="m">k</span>, let</div>
<div class="t" style="left:3484.0px;top:720.8px;font-size:47.2px;transform:scaleX(1.0720);"><span class="m">f</span><sup style="margin-left:.2em"><span class="mr">(</span><span class="m">t</span><span class="mr">)</span></sup><span class="mr">(</span><span class="mb">w</span><span class="mr">;</span> <span class="m">m</span><span class="mr">)</span> be convex and <span class="m">β</span>-smooth and jointly realizable (at</div>
<div class="t" style="left:3484.0px;top:801.6px;font-size:47.2px;transform:scaleX(1.0456);">a minimizer <span class="mb">w</span><sub style="top:.12em"><svg class="g" style="position:static;display:inline-block;width:.5em;height:.5em;vertical-align:-.22em" viewBox="-10 -10 20 20"><path d="M0-9 2.1-2.9 8.6-2.8 3.4 1.1 5.3 7.3 0 3.6-5.3 7.3-3.4 1.1-8.6-2.8-2.1-2.9Z" fill="currentColor"/></svg></sub>) surrogates&nbsp; satisfying for some <span class="mr">{</span><span class="m">ν</span><sub><span class="m">t</span></sub><span class="mr">}</span><sub><span class="m">t</span><span class="mr">≤</span><span class="m">k</span></sub><span class="mr">,</span></div>
<div class="t" style="left:3551.0px;top:886.5px;font-size:38px;transform:scaleX(1.0600);word-spacing:6.89px;"><span class="m">f</span><sup style="margin-left:.2em"><span class="mr">(</span><span class="m">t</span><span class="mr">)</span></sup><span class="mr">(</span><span class="mb">w</span><span class="mr">,</span> <span class="m">m</span><span class="mr">)</span> <span class="mr">−</span> <span class="m">f</span><sup style="margin-left:.2em"><span class="mr">(</span><span class="m">t</span><span class="mr">)</span></sup><span class="mr">(</span><span class="mb">w</span><sub style="top:.12em"><svg class="g" style="position:static;display:inline-block;width:.5em;height:.5em;vertical-align:-.22em" viewBox="-10 -10 20 20"><path d="M0-9 2.1-2.9 8.6-2.8 3.4 1.1 5.3 7.3 0 3.6-5.3 7.3-3.4 1.1-8.6-2.8-2.1-2.9Z" fill="currentColor"/></svg></sub><span class="mr">,</span> <span class="m">m</span><span class="mr">)</span> <svg class="g" style="position:static;display:inline-block;width:0.62em;height:0.62em;vertical-align:-0.03em" viewBox="0 0 60 60"><path d="M56 6H32a24 24 0 0 0 0 48h24M9 30h47" fill="none" stroke="currentColor" stroke-width="6.5" stroke-linecap="butt"/></svg> <span class="mr">[1,1 +</span> <span class="m">ν</span><sub><span class="m">t</span></sub><span class="m">β</span><span class="mr">](</span><span class="m">f</span><sup style="margin-left:.2em"><span class="mr">(</span><span class="m">t</span><span class="mr">)</span></sup><span class="mr">(</span><span class="mb">w</span><span class="mr">,</span> <span class="m">m</span><span class="mr">)</span> <span class="mr">−</span> <span class="m">f</span><sup style="margin-left:.2em"><span class="mr">(</span><span class="m">t</span><span class="mr">)</span></sup><span class="mr">(</span><span class="mb">w</span><sub style="top:.12em"><svg class="g" style="position:static;display:inline-block;width:.5em;height:.5em;vertical-align:-.22em" viewBox="-10 -10 20 20"><path d="M0-9 2.1-2.9 8.6-2.8 3.4 1.1 5.3 7.3 0 3.6-5.3 7.3-3.4 1.1-8.6-2.8-2.1-2.9Z" fill="currentColor"/></svg></sub><span class="mr">,</span> <span class="m">m</span><span class="mr">))</span></div>
<div class="t" style="left:3484.0px;top:976.3px;font-size:47.2px;transform:scaleX(1.0687);">If&nbsp; <span class="fl" style="transform:rotate(180deg) translateY(-.02em);font-family:'Liberation Sans'">A</span><span class="m">t</span> <span class="m">μ</span><sub><span class="m">t</span></sub> <span class="mr">≤</span> <span class="m">η</span><sub><span class="m">t</span></sub> <span class="mr">=</span> <span class="fr" style="font-size:.78em"><span><span class="mr">3(</span><span class="m">k</span><span class="mr">−</span><span class="m">t</span><span class="mr">)</span></span><span><span class="mr">13</span><span class="m">β</span><span class="mr">(</span><span class="m">k</span><span class="mr">+1)</span></span></span><span class="mr">,</span> random order IGD satisfies</div>
<div class="t" style="left:3871.0px;top:1108.1px;font-size:47.2px;transform:scaleX(1.0800);word-spacing:0.83px;"><span class="bb">E</span><span class="m">f</span>&thinsp;<span class="mr">(</span><span class="mb">w</span><sub><span class="mr">k+1</span></sub><span class="mr">)</span> <svg class="g" style="position:static;display:inline-block;width:0.8em;height:1.02em;vertical-align:-0.24em" viewBox="0 0 60 80"><path d="M52 6 10 26 52 46M8 68c10-13 16-11 22-4s14 9 22-4" fill="none" stroke="currentColor" stroke-width="5.5" stroke-linecap="butt"/></svg> <span class="fr" style="font-size:1.04em;top:-.3em;line-height:1.3"><span><span class="nm">||</span><span class="mb">w</span><sub><span class="mr">1</span></sub> <span class="mr">−</span> <span class="mb">w</span><sub style="top:.12em"><svg class="g" style="position:static;display:inline-block;width:.5em;height:.5em;vertical-align:-.22em" viewBox="-10 -10 20 20"><path d="M0-9 2.1-2.9 8.6-2.8 3.4 1.1 5.3 7.3 0 3.6-5.3 7.3-3.4 1.1-8.6-2.8-2.1-2.9Z" fill="currentColor"/></svg></sub><span class="nm">||</span><sup><span class="mr">2</span></sup></span><span><span class="m">k</span></span></span></div>
<div class="t" style="left:3473.0px;top:1267.7px;font-size:47.2px;transform:scaleX(1.0574);"><span class="pu">A particular case:</span> For <span class="m">f</span><sup style="margin-left:.2em"><span class="mr">(</span><span class="m">t</span><span class="mr">)</span></sup> <span class="mr">=</span> <span class="m">f</span>&thinsp;, we get <span class="m">O</span> <span class="fl mr" style="transform:scaleY(1.9);transform-origin:50% 62%">(</span><span class="fr" style="font-size:.78em"><span><span class="mr">1</span></span><span><span class="m">k</span></span></span><span class="fl mr" style="transform:scaleY(1.9);transform-origin:50% 62%">)</span> rate for the last</div>
<div class="t" style="left:3473.0px;top:1378.8px;font-size:47.2px;transform:scaleX(1.0329);">iterate of SGD with a decaying schedule</div>
<div class="t pu" style="left:3473.6px;top:1477.0px;font-size:47.2px;transform:scaleX(1.0240);">Proof Idea:</div>
<div class="t" style="left:3473.6px;top:1557.5px;font-size:47px;transform:scaleX(1.0398);">Extending the recent technique of <span class="bl">Zamani and Glineur (2023)<sup style="font-size:.6em;top:-.65em">[2]</sup></span></div>
<div class="t" style="left:3473.6px;top:1637.0px;font-size:47px;transform:scaleX(1.0406);">to the stochastic, smooth, realizable regime, we get:</div>
<div class="t" style="left:3487.0px;top:1741.1px;font-size:38px;transform:scaleX(1.1000);word-spacing:4.40px;"><span class="fl" style="position:relative;text-align:center;width:1.55em;vertical-align:baseline"><span class="mr" style="font-size:2.45em;line-height:0;position:relative;top:.02em;display:inline-block;transform:scaleX(.78)">∑</span><span style="position:absolute;left:0;right:0;top:-2.12em;font-size:.74em"><span class="m">k</span></span><span style="position:absolute;left:0;right:0;top:2.14em;font-size:.74em"><span class="m">t</span><span class="mr">=1</span></span></span><span class="m">c</span><sub><span class="m">t</span></sub><span class="bb">E</span><span class="mr">[</span><span class="m">f</span>&thinsp;<span class="mr">(</span><span class="mb">w</span><sub><span class="mr">t</span></sub><span class="mr">)</span> <span class="mr">−</span> <span class="m">f</span>&thinsp;<span class="mr">(</span><span class="m">w</span><sub style="top:.12em"><svg class="g" style="position:static;display:inline-block;width:.5em;height:.5em;vertical-align:-.22em" viewBox="-10 -10 20 20"><path d="M0-9 2.1-2.9 8.6-2.8 3.4 1.1 5.3 7.3 0 3.6-5.3 7.3-3.4 1.1-8.6-2.8-2.1-2.9Z" fill="currentColor"/></svg></sub><span class="mr">)]</span> <span class="mr">≤</span> <span class="fr" style="font-size:1em;line-height:1.1"><span><span class="m">v</span><span class="ss"><span><span class="mr">2</span></span><span><span class="mr">0</span></span></span></span><span><span class="mr">2</span></span></span><span class="nm">||</span><span class="mb">w</span><sub><span class="mr">1</span></sub> <span class="mr">−</span> <span class="mb">w</span><sub style="top:.12em"><svg class="g" style="position:static;display:inline-block;width:.5em;height:.5em;vertical-align:-.22em" viewBox="-10 -10 20 20"><path d="M0-9 2.1-2.9 8.6-2.8 3.4 1.1 5.3 7.3 0 3.6-5.3 7.3-3.4 1.1-8.6-2.8-2.1-2.9Z" fill="currentColor"/></svg></sub><span class="nm">||</span><sup><span class="mr">2</span></sup> <span class="mr">+</span> <span class="fr" style="font-size:1em;line-height:1.1"><span><span class="mr">1</span></span><span><span class="mr">2</span></span></span><span class="fl" style="position:relative;text-align:center;width:1.55em;vertical-align:baseline"><span class="mr" style="font-size:2.45em;line-height:0;position:relative;top:.02em;display:inline-block;transform:scaleX(.78)">∑</span><span style="position:absolute;left:0;right:0;top:-2.12em;font-size:.74em"><span class="m">k</span></span><span style="position:absolute;left:0;right:0;top:2.14em;font-size:.74em"><span class="m">t</span><span class="mr">=1</span></span></span><span class="m">η</span><span class="ss"><span><span class="mr">2</span></span><span><span class="m">t</span></span></span><span class="m">v</span><span class="ss"><span><span class="mr">2</span></span><span><span class="m">t</span></span></span><span class="bb">E</span><span class="nm">||</span><span class="fl mr" style="transform:rotate(180deg) translateY(.04em)">Δ</span><span class="m">f</span>&thinsp;<span class="mr">(</span><span class="mb">w</span><sub><span class="mr">t</span></sub><span class="mr">;</span> <span class="m">m</span><sub><span class="m">t</span></sub><span class="mr">)</span><span class="nm">||</span><sup><span class="mr">2</span></sup><span class="mr">,</span></div>
<div class="t" style="left:3473.6px;top:1870.0px;font-size:47px;transform:scaleX(1.0500);word-spacing:7.22px;">where <span class="m">c</span><sub><span class="m">t</span></sub> <span class="mr">=</span> <span class="m">η</span><sub><span class="m">t</span></sub><span class="m">v</span><span class="ss"><span><span class="mr">2</span></span><span><span class="m">t</span></span></span> <span class="mr">− (1 −</span> <span class="m">η</span><sub><span class="m">t</span></sub><span class="m">β</span><span class="mr">)(</span><span class="m">v</span><sub><span class="m">t</span></sub> <span class="mr">−</span> <span class="m">v</span><sub><span class="m">t</span><span class="mr">−1</span></sub><span class="mr">)</span> <span class="mr">∑</span><span class="ss"><span><span class="m">k</span></span><span><span class="m">s</span><span class="mr">=</span><span class="m">t</span></span></span> <span class="m">η</span><sub><span class="m">s</span></sub><span class="m">v</span><sub><span class="m">s</span></sub><span class="mr">,</span></div>
<div class="t" style="left:3473.6px;top:1949.8px;font-size:47px;transform:scaleX(1.0254);"><span class="mr">0 &lt;</span> <span class="m">v</span><sub><span class="mr">1</span></sub> <span class="mr">≤</span> <span class="m">v</span><sub><span class="mr">2</span></sub> <span class="mr">≤ ··· ≤</span> <span class="m">v</span><sub><span class="m">k</span></sub>, and step sizes <span class="m">η</span><sub><span class="mr">1</span></sub><span class="mr">, … ,</span> <span class="m">η</span><sub><span class="m">k</span></sub><span class="mr">.</span></div>
<div class="t" style="left:3473.6px;top:2042.6px;font-size:47px;transform:scaleX(1.0695);">Using a unique assignment <span class="m">v</span><sub><span class="m">t</span></sub> <span class="mr">≈</span> <span class="fr" style="font-size:.78em"><span><span class="mr">2</span></span><span><span class="m">k</span><span class="mr">−</span><span class="m">t</span><span class="mr">+1</span></span></span><span class="mr">:</span> <span class="m">c</span><sub><span class="m">t</span></sub> <span class="mr">−</span> <span class="m">η</span><span class="ss"><span><span class="mr">2</span></span><span><span class="m">t</span></span></span><span class="m">v</span><span class="ss"><span><span class="mr">2</span></span><span><span class="m">t</span></span></span> <span class="mr">≥ 0</span> and</div>
<div class="t" style="left:3473.6px;top:2154.3px;font-size:47px;transform:scaleX(1.0611);"><span class="m">c</span><sub><span class="m">k</span></sub> <span class="mr">−</span> <span class="m">η</span><span class="ss"><span><span class="mr">2</span></span><span><span class="m">k</span></span></span><span class="m">v</span><span class="ss"><span><span class="mr">2</span></span><span><span class="m">k</span></span></span> <span class="mr">≥</span> <span class="fr" style="font-size:.78em"><span><span class="m">η</span></span><span><span class="m">k</span></span></span>. Using properties of convex and smooth</div>
<div class="t" style="left:3473.6px;top:2258.0px;font-size:47px;transform:scaleX(1.0537);">functions we obtain the desired result.</div>
<div class="t gy" style="left:3473.6px;top:2346.0px;font-size:47.5px;transform:scaleX(0.9897);">References</div>
<div class="t" style="left:3473.6px;top:2423.4px;font-size:35px;transform:scaleX(1.0174);">[1] Evron, Levinstein, Schliserman, Sherman, Koren, Soudry, Srebro. Better rates for</div>
<div class="t" style="left:3473.6px;top:2470.0px;font-size:35px;transform:scaleX(1.0366);">random task orderings in continual linear models. <i>arXiv</i> 2025.</div>
<div class="t" style="left:3473.6px;top:2517.8px;font-size:35px;transform:scaleX(1.0311);">[2] Zamani, Glineur. Exact convergence rate of the last iterate in subgradient methods.</div>
<div class="t" style="left:3473.6px;top:2563.0px;font-size:35px;transform:scaleX(0.9586);">NeurIPS 2023.</div>
<div class="t" style="left:87.6px;top:2819.5px;font-size:43px;transform:scaleX(0.8154);-webkit-text-stroke:1.3px #000"><b>TEL AVIV UNIVERSITY</b></div>
<div class="t" style="left:732.7px;top:2737.8px;font-size:59px;transform:scaleX(1.0915);color:#03306e;-webkit-text-stroke:1.2px #03306e"><b>TECHNION</b></div>
<div class="t" style="left:734.3px;top:2813.3px;font-size:42.3px;transform:scaleX(1.0966);color:#03306e;-webkit-text-stroke:.9px #03306e">Israel Institute of Technology</div>
<div class="t s" style="left:1470.4px;top:2731.2px;font-size:67.8px;transform:scaleX(0.9353);color:#03306e;-webkit-text-stroke:1px #03306e"><b>NSF</b></div>
<div class="t" style="left:1720.2px;top:2723.0px;font-size:73.6px;transform:scaleX(1.0202);color:#0b3372;text-shadow:0 0 3px #d9d9d9,0 0 3px #d9d9d9">erc</div>
<div class="t" style="left:1874.3px;top:2687.0px;font-size:26.8px;word-spacing:-0.90px;color:#404040"><b style="color:#3a5ba0;font-size:1.17em">Acknowledgments.</b> The research of TK has received funding from the European Research Council (ERC) under the European Union’s Horizon 2020 research and innovation program (grant agreement No. 101078075). Views and opinions expressed</div>
<div class="t" style="left:1874.3px;top:2727.6px;font-size:26.8px;word-spacing:2.74px;color:#404040">are those of the authors only and do not necessarily reflect those of the European Union or the European Research Council. Neither the European Union nor the granting authority can be held responsible for them. This work received additional</div>
<div class="t" style="left:1874.3px;top:2761.9px;font-size:26.8px;color:#404040">support from the Israel Science Foundation (ISF, grant number 3174/23), from the Israeli Council for Higher Education, and from a grant of the Tel Aviv University Center for AI and Data Science (TAD).</div>
<div class="t" style="left:1874.3px;top:2797.4px;font-size:26.8px;word-spacing:-0.79px;color:#404040">The research of DS was funded by the European Union (ERC, A-B-C-Deep, 101039436). Views and opinions expressed are those of the author only and do not necessarily reflect those of the European Union or the European Research Council Executive</div>
<div class="t" style="left:1874.3px;top:2831.7px;font-size:26.8px;transform:scaleX(0.9968);color:#404040">Agency (ERCEA). Neither the European Union nor the granting authority can be held responsible for them. DS also acknowledges the support of the Schmidt Career Advancement Chair in AI.</div>
<svg style="left:0;top:0" width="4887" height="1400"><path d="M1896.5 732.7Q1922.3 747 1941 754.5L1946.2 741.8L1964.8 780.3L1922.3 789.1L1929.1 776.4Q1906.5 768 1886.6 755.3Z" fill="#ed7d31" stroke="#5b3a1e" stroke-width="1.2" stroke-linejoin="round"/><path d="M1887.8 957Q1916.4 953 1934.2 945.9L1930.3 931.6L1970 948.2L1944.2 983.6L1941 970.9Q1918.4 979 1893.8 982.8Z" fill="#ed7d31" stroke="#5b3a1e" stroke-width="1.2" stroke-linejoin="round"/><path d="M2346.3 851.8Q2371 853 2396.7 850.6L2395.9 837.9L2429.3 864.9L2395.9 889.5L2396.7 876.4Q2371 877 2346.3 877.6Z" fill="#ed7d31" stroke="#5b3a1e" stroke-width="1.2" stroke-linejoin="round"/><path d="M2803.8 793.3Q2838.7 782 2862.6 771.9L2856.1 753.4L2901 764.4L2880 803.3L2873.6 789.3Q2843.7 806 2812.7 817.3Z" fill="#ed7d31" stroke="#5b3a1e" stroke-width="1.2" stroke-linejoin="round"/><path d="M2802.8 903Q2828.7 919 2861.1 929.9L2871.1 918L2888.5 956.3L2843.7 966.3L2848.6 953.9Q2818.7 944 2791.3 926.4Z" fill="#ed7d31" stroke="#5b3a1e" stroke-width="1.2" stroke-linejoin="round"/></svg>
</body></html>
